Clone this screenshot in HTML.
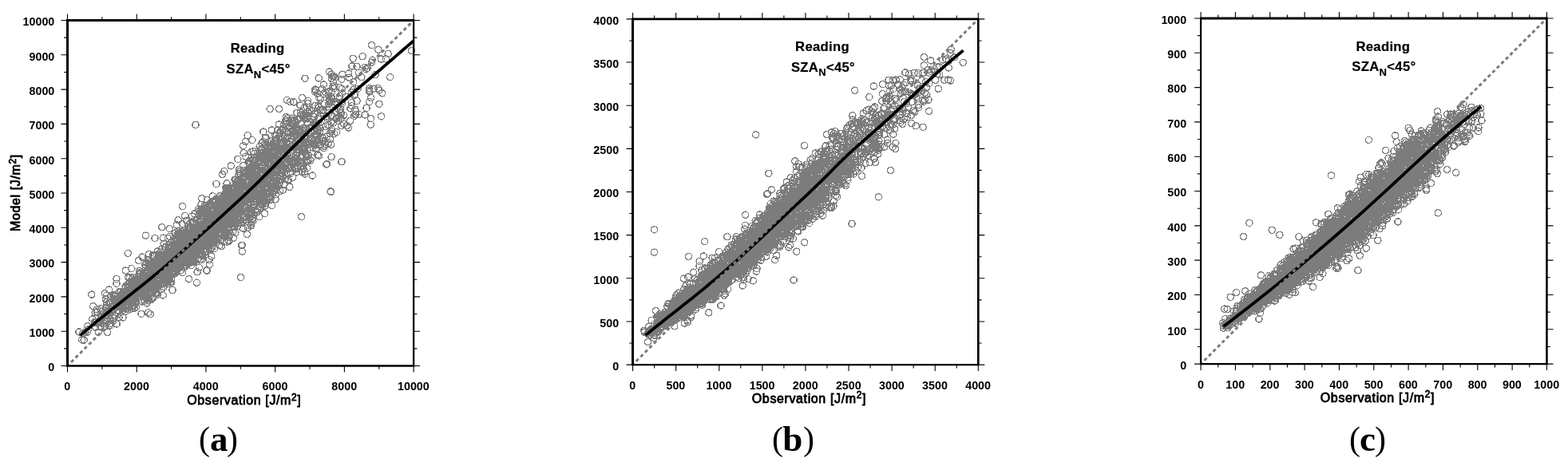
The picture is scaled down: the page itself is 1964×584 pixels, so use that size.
<!DOCTYPE html>
<html><head><meta charset="utf-8"><title>Figure</title>
<style>
html,body{margin:0;padding:0;background:#fff;}
body{width:1964px;height:584px;overflow:hidden;}
svg{display:block;}
text{font-family:"Liberation Sans",sans-serif;font-weight:normal;fill:#000;stroke:#000;stroke-width:0.8px;stroke-linejoin:round;letter-spacing:0.62px;}
.tk text{font-size:14.3px;letter-spacing:0;stroke:none;font-weight:bold;}
.ax{font-size:16px;}
.tt{font-size:16.7px;font-weight:bold;stroke-width:0.2px;letter-spacing:0.3px;}
.sup{font-size:12px;}
.sub{font-size:13px;}
.cap{font-family:"Liberation Serif",serif;font-weight:normal;font-size:42px;stroke:none;letter-spacing:0;}
.cap .b{font-weight:bold;font-size:45px;}
</style></head><body>
<svg width="1964" height="584" viewBox="0 0 1964 584">
<defs>
<marker id="m" markerUnits="userSpaceOnUse" markerWidth="10" markerHeight="10" refX="5" refY="5" viewBox="0 0 10 10" overflow="visible"><circle cx="5" cy="5" r="4.1" fill="none" stroke="#7c7c7c" stroke-width="1.3" shape-rendering="crispEdges"/></marker>
</defs>
<rect width="1964" height="584" fill="#fff"/>
<polyline fill="none" stroke="none" marker-start="url(#m)" marker-mid="url(#m)" marker-end="url(#m)" points="186.8,333.7 271.6,278.2 293.5,279.1 142.8,374.3 192.4,353.9 390.9,179.2 166.2,379.9 187.2,347.4 401.8,171.2 298,251.2 244.2,294.1 274.2,252.5 307.6,196.1 224.1,314.2 189.6,348.5 340.1,188.8 309.4,218.8 274.4,258 348.7,211.5 282.1,279.2 428.6,129.7 207.4,309.1 283.1,245.8 268.3,259.7 240.9,318.2 291.3,246 214.9,336.8 344.3,214.9 365.5,148.1 186.9,325.5 264.8,283.4 224.5,301.5 171.4,372.7 376.4,179.3 257,295.5 192.4,319.7 310.1,264 206.8,310.6 378.7,180.9 210.5,338.4 146.1,405.9 206.5,326.4 239.3,292.8 265.2,284.1 380.7,147.7 316,265.8 237.9,316.3 132.3,394.2 195.7,361.1 465.4,78.2 263.3,290.2 314.4,222.3 158.9,364.4 146.8,377.7 358,152.6 290.5,280.9 231.4,313.7 233.3,326.6 173.7,352.6 199.2,325.3 139.4,371.1 355.8,190.9 264.7,258.1 186.4,350.9 326.7,244.4 205.2,305.6 162.4,348 292.8,277.7 376.3,164.6 141.4,390.8 345.2,227.7 203.8,354.1 175.1,342.2 133.4,370.2 228,310.6 323.5,247.6 270.3,249.9 360.4,199.8 210.5,350.3 232.8,291 220.2,326.9 425.3,109.4 397.6,170.2 238.2,308.6 258.3,304.5 232.6,293.4 328.6,239.3 150.7,383.4 164.9,336.5 251.6,277.9 217.2,343.7 357.8,204.5 327.4,256 281.4,251.1 307.2,261.2 314.7,282.8 338.1,250.6 390.5,175.7 193,321.5 299,279 191.2,347.1 259.8,291.4 339.6,247.3 375.9,132 332.1,200.2 147.7,381.4 242.2,306.6 196.6,319.7 478.7,116.8 191.3,339.5 217,338.8 241.7,287.5 161.9,359.3 366.6,165.8 301.4,263.4 195.7,334.2 271.4,274.8 169.6,374.5 295.6,279.1 214,329.9 149.9,374.9 182.7,363.5 283.4,261.3 301.5,245.5 234.9,313.2 303,231.8 240.6,279.6 187.5,335.7 232.8,317.8 249.7,282.4 383.5,192.4 182.8,368.3 172.6,349.7 284.8,256 411.7,115 381.2,134.4 316.7,238.5 164.6,364.7 345.5,180.8 312.5,261.1 191.3,321 264.4,272.2 156.1,365 344.2,221.1 321.3,215.7 345,235.8 332.4,234.9 222.3,328.8 340.6,215 218.2,322.1 189.6,375.2 248.7,262.1 271.3,303.3 226.5,326.9 294.4,259.4 293.7,270.1 216,325.3 298.2,262.4 241.7,298.5 325.5,243.5 227.5,312.6 343.3,198.6 253.9,289.2 283,240.2 310.1,234.5 275.7,255.8 220.1,309.4 426.6,139.8 176.2,353.8 234.9,303.5 282.1,263 142.8,375.2 194.4,333 343.4,239.6 338.9,246.9 301.5,260.1 378.8,207.3 331,193.1 229.3,327.3 303.3,307.4 238.1,309.9 329.5,177.3 247.5,284.8 193.9,329.3 368.8,211 314.2,267.9 328.1,255.9 284.4,247.9 338.7,250.4 260.8,270.6 285.7,293.5 162.7,364 283.4,266.1 348,163 318,241.5 344.6,206.8 271,267.7 370.7,167.2 180.4,369.9 368.5,151.5 244.7,292.1 174.4,351.1 297.5,259 262.3,281.7 256.7,302.3 360.1,204.1 189.6,335.9 296.9,271.4 253.6,320.3 277.7,259.6 271.7,280.6 188.5,356.8 274.3,252.9 363.6,127.6 198.8,332 126.1,400.3 165,362.3 263.3,294.2 421.2,128.3 153.3,371 447.1,126.5 279.4,251.6 184.2,364.3 254.6,300.3 208.1,319.3 320.2,248.3 280.5,254.2 226.9,319.3 219.6,325.9 365.4,170.2 334,216.1 258.3,271.9 251.9,303.5 326.2,186.4 417.7,102.9 170,362.6 195.5,355.1 242.8,304.9 273.4,269.2 166.6,364.9 158.3,384.1 211.1,337.7 247.7,310.1 326.7,188 295.3,225.4 143.2,370.3 153.7,378.3 261.7,271.9 368.2,201.7 384.6,210.7 243.4,302.9 373,161.9 391.3,158 252.1,319.8 328.5,233.6 243.4,305.1 194,298.5 287.7,243.8 172.7,357.5 307.7,252.2 346.4,213.5 384.8,188 260.8,286.8 183.4,371.8 379.1,160.5 366.6,152.6 415,121.3 291.8,246.7 310.1,220.1 245.1,288.5 201.9,319 227.8,319.6 321.8,252.1 234.9,330.3 314.5,246 272.2,261.3 261,264.8 415,152.7 197.4,369.1 269.1,284.1 195.7,336.2 395.6,185.6 269.4,286.3 236.4,318.9 198,359.5 291.8,290.3 250.5,317.2 186.4,347.7 145.6,380.5 248.9,283.5 289.4,279 275.7,280 378.1,196.9 383.1,179.5 395,176.3 343.5,228.1 267.1,291.5 276.8,287 250.1,299.1 250.6,318.4 151.7,365.3 343.3,212.7 217.4,319.1 143.3,376.6 264.7,321.1 321.1,197.3 258.3,289.2 243.1,295 306.5,234.6 196.6,345.3 126,408.5 291.5,249.4 278.2,286.4 364.9,154 254.1,286.7 339.6,233.5 133.3,378.8 141.7,402.2 292.8,253.5 212.7,349.4 164.8,371.9 186.6,367.7 245.4,303.6 237.5,329.9 285.2,271.8 373.1,184.6 243.5,268 202.2,332 288.3,267 109.6,408.8 247.5,313.4 233.3,311.3 248,314.4 156.9,372.1 283.2,282.9 298.6,231.9 329.4,246.3 407.6,115.9 241.2,291.1 306,244.7 259.6,304.3 210,349.1 373.8,174 328.5,191.7 398.6,149 350.2,165.7 385.7,126.4 186.7,376.5 131.1,408.8 205.9,337 253.3,317.1 313.6,265.4 258.8,295.2 274.6,280.2 332.5,240.6 166.3,347.8 311.3,256.8 155.8,376.2 218.1,332.7 322.3,212.2 312.4,237.1 251.8,291.1 228.4,317.6 352.2,210 224,299 144.7,377.7 217.7,332 136.5,408.1 346.8,228.4 184.9,345.1 420.7,148.8 209.5,330.3 230.9,318.4 289.9,247.3 231.3,293.9 246.3,292.3 179,361.5 248.4,293.1 140,388.9 212.2,315.6 382.1,160.8 225.4,304.9 223.1,331.9 311.5,253.6 371.3,168.7 228.7,341.5 245.7,299.3 320.3,207.1 341.3,181.2 296.2,235 200.9,351.4 201.3,330.5 331.7,225.6 318.3,208.1 376.6,155.3 337.8,217.8 255.2,306.6 188.2,368 374.2,182.9 315.5,214.1 288,257.5 312.1,240.9 247.6,314.8 238.8,306.1 287.8,266.7 268.1,302.1 318.9,227.8 394.9,180.2 358.5,179.9 248.1,300 244.9,296.8 390.2,139 249.6,269.5 343.7,236.5 175,355.2 261.5,277.7 275.2,265.1 346.3,186.5 369.3,212.1 193.8,362.5 297,261.3 299.7,212.4 193.5,348.9 354,162.9 283.1,294.6 410.5,156.2 202.8,311.9 277,260.1 234.6,300.8 302.8,231.6 294.9,261 274.4,285.7 234.9,301.9 272.6,255.3 244.9,291.6 374.3,179.5 263.7,292.5 266.6,302.9 220.3,308.8 219.3,321.6 405.2,106 232.6,325.2 365.8,197.3 292,254.8 428.1,111.5 196.9,327.9 397.9,178.8 335.7,227.3 286.2,271 318.8,249.2 322.3,265.9 260.9,258.7 300.9,246.9 213.3,315.9 136.6,385.4 310.8,243.7 266.4,291.7 380.4,143.9 221.6,298 349.1,191.7 437.3,97.2 377.3,143.7 412.5,127.8 195.5,332.5 197.2,326 213.2,333 242.6,286 182.7,364.3 193.2,332 133.9,398.2 393.4,146.6 242.5,328 299,247.6 262.2,296.8 327.7,251.4 345.5,243.5 247.1,308.2 279.2,267.4 176.7,368.8 226.4,307.2 211.9,323.1 231.4,331.5 234.8,296.6 287.7,248.2 236.5,304.3 235.3,313.9 353.3,178.4 127,398.4 116.7,383.8 160.1,371.4 364.8,199.2 300.8,274.6 323.7,243.4 407.7,158.3 210.7,298.7 386.9,142.1 216.6,340.9 275.8,263.3 311.9,245.8 342.8,228.5 217.9,307.3 266.9,269.3 154,398 226.9,304.6 428.7,93.2 380.2,211.5 289.2,245.8 339.7,191.9 379,145.8 236.3,281.7 428,99.2 260.9,290.3 195.5,351.7 278.1,261.8 291.7,275.8 314.8,278.7 309.5,245.9 151.6,378.8 302,279.6 387.7,160.8 309.3,293.6 421.9,147.5 274.2,286.6 346.7,179.2 190.3,349.2 376.3,141.1 258.4,270.1 368.9,168.2 234,302.2 298.6,253.8 358.3,183.7 319.5,244.1 297.6,258.3 417.6,153.9 173.2,346.3 178.3,344.4 282.7,241.2 405.7,185.7 313.3,250.7 231.6,320.6 180.2,353.5 260.9,293.1 267.6,305.3 265.1,285.1 297.5,283.3 223.6,315.8 370.3,160.6 227,325.3 180,343.9 239.9,321.2 394.7,112.1 195.6,334.2 224.7,322.3 390,174.4 239.8,297.7 357.1,206.7 154,388.4 373.4,174.8 215.4,324.7 201.3,354.9 327.5,215.9 443.6,119.5 408.8,146 330.2,194.9 384.3,196.2 438.7,151.3 282.9,294.2 191.5,354.2 359.2,152.3 249.8,283.7 232.3,326.2 272,276.7 147.4,388.7 134.1,403.4 221.7,321.1 292.2,237.2 329.4,200.7 407.4,115.7 349.1,186.4 397.6,176.3 301.4,251.2 325.3,259.1 290.4,270.1 170.7,358.6 162.4,379.7 332.3,173.1 206.9,342.1 340.7,231.2 264.2,270.3 119.7,410.1 284.8,237.8 259.8,296.6 167.7,368.2 220.9,302.1 231,322.3 239.3,296 318.3,268.9 197.8,334.5 259.8,308.8 294.7,268.5 400.6,137.9 182.6,348.2 169.9,359.9 204.2,369.9 211.4,341.4 196.5,359.2 168.5,370.7 208.7,325.6 212,307.4 267.5,264.6 304,252.6 243.1,328.2 198,345.5 175.7,352.7 221.4,282 198.7,350.8 267.8,300.8 366.8,150.6 320.8,213 207.1,337.5 148,380.4 165,375.4 258.2,292 243,298.2 312.3,241.9 171.7,365.8 219.4,340.3 313.1,205.2 286.2,249.4 275.3,245.9 378.8,164.1 182.1,365 205.1,359.4 285.6,287.4 285.6,277.7 427.5,157.3 424.3,147.3 290.3,243.5 332,257.6 316,273.4 188.1,346 293.6,257.3 230.8,316.8 242.1,322.1 194.8,344.4 121.9,390.9 360.7,203.2 320.9,227.3 330.1,224.8 227,302.9 254.4,302.4 200.1,344.2 293.6,267.8 355.8,231.1 337.5,197.3 393.7,181.9 220.8,332.5 316.9,253.2 186.3,352.6 279.4,259.5 181.1,368.8 280.3,258.1 280.7,258 239.5,305 240.1,308 319.4,212 267.8,290.6 252.3,303.7 181.9,332 225.7,292.7 358.4,196.9 418.8,107.8 245.1,297.2 366.7,222.2 367.8,204.9 210.8,343.9 223.8,297.5 315.6,225.5 230.9,326.9 406.1,129.4 243.3,305.6 324.3,196.3 318.4,225.9 209.7,355.8 365,187.6 235.7,301.8 181,346.2 156.6,373.5 261.6,289.6 300.6,253.1 223.3,294.2 356.7,163.7 222.4,293.6 358.6,178.2 146.1,376 221.3,328.9 195.6,357 260.8,270.8 240.3,291.8 249.6,288.6 359.9,203.7 288.6,293.8 294.3,246.3 248.6,292 346,177.4 272.2,285.2 328.5,253 384.2,202.6 295.8,232.5 258.1,282.5 221.5,330.9 383.2,202 333.6,200 343.5,229.2 211.6,319.6 258.4,286 371.5,215.9 217.4,306.2 347.8,221.5 279.9,252.5 210.9,334.8 245.5,299.5 168.6,386 310,282.2 323.5,228.4 143,381.8 229.9,304.8 334.7,238.6 206.4,329.8 279.6,267.6 345.4,214.9 286.6,236.3 184.9,360.5 382,218 328.7,207.9 285.5,276.4 236.6,349.8 289.2,249.3 248.9,312.5 183.8,355.5 184.9,350.8 153.9,378.3 198.6,357.6 217.3,323.2 301.1,265.5 288.8,251.1 291,279.8 350.3,197.6 175.9,343.3 248.4,323.7 169.9,360.4 254.7,285.9 169.7,350.2 164.4,368.9 179.1,362.1 248.6,314.4 333.1,172.5 225.6,302.3 327.4,188.6 214.4,337.5 226.8,322.4 265.8,274.2 168.1,382.8 261,295.9 289.5,285.1 351.1,224.2 159.6,358.7 343.6,183.4 286.5,254.4 288.4,267.1 157.1,358.9 370.1,203.1 224.6,308.9 281.6,296.9 279.9,258.9 382.4,190.5 293.4,274.1 448.1,111.2 214.2,321.2 307.4,261.2 288.1,271 274.6,274 299.4,261.1 282.4,250.6 237.4,301.6 302.6,235.7 171.5,355.7 267.4,253 261.8,298.5 209.6,321.8 286.2,243.6 309.3,233.7 185.7,338.4 228.9,317.8 162.5,376.5 292.5,273.3 170.8,361.1 213.5,333.4 260.8,276.9 261.6,270.4 146,355.3 401.2,124.4 213.7,333.7 295.4,259.7 211.8,334.6 292.2,272.2 240.7,277.8 233.5,309.6 266.4,286.6 290.1,244.5 292.7,248.8 313.8,217.7 222.6,296.3 174.6,339.6 219.1,308.4 235.3,314.1 294.8,278.2 253.7,284.4 232,333.7 177,393.3 292.4,242 181,372.4 275.3,267.2 313.7,265.9 298.3,267.6 195.7,349.2 241.4,292.6 397.5,163.2 174.3,343.9 311.4,262.6 258.4,285.3 296.2,269.4 249.4,296.8 185.4,353.1 285,235.4 118.3,404.6 364.3,217 343.3,221 245.2,300 279.7,269.6 277.6,255.6 427,148.3 153,386.5 229.1,289.5 252.2,308.1 340,176.8 324.3,213.3 255.6,264.2 126.4,386.8 304,222.5 252.1,263.7 183.2,329.6 300.1,239.2 260.2,283.3 231,333.3 222.8,334.4 276.2,248.2 217.8,310.2 249.3,335.2 398.1,162.5 267.1,272.6 219.2,342.6 276.3,290.8 385.7,140.1 365.1,173.4 311,219.1 377.7,208.5 331.4,180.8 311.7,213.5 256.6,272.8 192.9,351 324.8,246.9 300.9,252.7 415.2,98.1 234.1,293.1 368.9,204 210.9,351.6 400.6,165.8 462.7,127.7 154.9,375.5 234.8,301.4 475,113 415.6,162.2 309.4,233.6 188.6,362 119.2,391.7 218.2,323.1 399.5,122 345.1,197.8 256.7,268.2 332.6,209.1 379,169 229.6,325.4 368.1,170.9 222.8,310.5 235.7,321.6 153.6,379.1 195.8,367.8 282.5,271.5 138.9,387.3 281.4,255.5 198.5,319.9 329.2,237.9 186.7,360.4 208,347.5 222.7,324.1 289.3,207.9 346.2,221.6 330.4,230.4 327.2,255 312.1,201.7 280.9,244.4 238.6,297.8 201.1,327.7 364.2,208.8 252.6,248.8 304.6,182.8 165.3,355.5 242.5,318.9 177.7,353.5 241.1,309.2 325.1,183.6 238.3,309.9 312.2,215.8 185.2,362.5 247.5,325.7 252.8,309.7 273.7,270.2 213.3,334.2 316.3,207.3 371,187.6 347.4,230.4 144.5,375.2 269.3,283.4 238.9,318 287.2,279.6 171.5,350.5 324.2,253.4 254.2,295.5 399.2,97.9 134.5,416.3 254.4,307.5 269,266.7 353.2,187.7 331.3,249.3 201.7,343.3 231.2,301.8 325.8,194.1 254.9,286.8 221.4,312.3 392.1,145.9 357.1,200.3 241.3,285.2 282.2,251.3 391.3,220 210.4,318.2 382,148.9 371.9,141.2 323.4,225.9 313.2,272.3 312.9,242.8 281.1,282 289.2,253.8 205.6,338.3 285,251.6 310,213.3 268.7,311.5 311.5,238.6 263,300.1 344.7,183.9 321.9,226.6 173.6,365.2 334.8,216.7 226.3,298.1 170.7,366.2 184.6,346.7 234.7,300 277,278.5 236,291.7 207.1,346.5 334.8,251.1 245.2,315.4 367.9,202.2 217.1,311.4 314.1,281.5 241.7,297.8 359.3,180.9 303.7,262.7 311.3,218.5 175,358.8 329.9,165.1 241.1,300.4 326.9,203.4 357.8,150.8 184.9,353 130.7,402.8 331.7,213.2 415.8,124.1 378.2,215.4 258.2,262.5 354,181.5 138.5,405.6 160.8,382.2 289.1,235.3 277.6,279.8 351.2,187.5 214.5,354.6 263.9,301.9 443.7,145.3 230.2,323 251.6,312.6 294.8,291.7 460,85.4 201.8,343.1 314.4,216.4 253.7,319.4 250.9,274.1 219.9,341 264.5,278.9 287.6,263.9 249.1,291.7 273,292.8 301.3,254.5 360,171.8 284.7,291.1 247,294.4 410.4,137.8 199.2,344 154,366.6 381.6,182.9 222,315.7 193.4,330.5 247.6,306.8 238.7,303.9 241.2,307.6 359.8,195.3 227.5,329.5 188,346.4 210.2,321.1 402.6,138.6 256.8,280.6 242.4,322.5 337.1,222.3 394.6,175.6 273.9,286.1 348,206.3 221.7,331.9 240.3,302 288,242.2 215.2,332.9 224.1,309.5 203.1,340.9 221.2,327.8 355.9,168.8 342.1,188.3 182.3,335 239.9,294.9 322.3,196.5 362.8,234.3 284.5,265.4 323.4,204.9 215.4,333.2 338.4,216.8 350,229.4 252.2,317 215,336.8 146.1,391.9 299.8,248.1 300.5,275 106.5,416.6 276,270.4 396.2,168 142.9,371.7 189.4,345.1 160.4,356.1 258.4,285.5 247.5,293.2 366.5,205.9 164.5,362.9 206.4,336.6 395.9,156.5 134.4,390.7 220.5,310.7 249.5,283.8 103.9,417.8 226.8,338.7 293.8,243.9 296.5,237.3 295.1,257.6 304.7,207.3 296.4,267.8 147.1,374.5 305.7,251.8 289.6,249.7 210.7,334.8 254.8,301.2 215.5,341.2 365.7,187.3 224.9,315.3 196.6,367.1 342.6,205.6 332.6,186.1 360.2,148 311,234 254.3,289 266.6,269.7 283.4,241.5 292.2,257.4 399.9,180.5 221.9,314 334.6,196.4 132.3,374.5 203.8,347.2 399.5,134.7 218.6,338.5 274.1,259.8 385.3,145.4 305.6,222 269.3,293.4 317.1,201.1 425.4,120.8 397.7,117 201.5,350.5 190.2,344.7 226.9,318 191.7,328.2 333.4,199.2 354.1,213.6 190.4,330.7 167.4,374.3 234.6,307.4 313.4,266.7 335.1,212.2 263.5,257.5 302,254.4 385.8,201.1 370.2,152.5 183.5,354 320,239.5 336.9,241.2 381.2,203.7 254.5,285.6 194.7,341.7 266.3,294.1 244.4,323 249.4,312.8 344.5,238.9 305,245 311.7,242.1 305.2,272.4 190.7,348.7 160.7,347.6 249.7,295.7 359.3,198.4 304.2,225.1 341.1,217.8 298.2,239.5 339.1,227.7 464.2,156.2 320,207.8 363.5,178.3 419.6,131.1 327.1,256.3 347.5,222.5 169.6,369.5 148.4,373.4 388.5,180.7 215.5,315.8 230.7,335.5 188.8,357.6 300.9,231.8 143.6,375.1 343.4,227.4 229.2,328.1 327.9,247 382.7,174 314.2,237 255.9,316.3 298.7,236.7 361.2,226.2 319.5,238.9 218.9,318.1 120.8,403.9 370.1,178.5 298.4,252 163.1,372.2 282.5,265.4 290.7,274.3 228.1,311.8 372.5,169.9 216,363.6 191.3,372.1 231.6,270.5 237.7,287 371.7,199 306.2,217.5 184.8,362.7 249.4,292.1 178.5,364.7 318.1,207.8 361.1,166.1 175.3,351.5 271.8,287.4 217.1,299.4 226.3,329.6 328.7,196.4 423.8,151.6 224.9,321.3 280.8,292.4 231.8,315.4 162.5,362.9 293.7,273.9 194.5,367.5 313.6,217 328.8,223.9 190.9,350.6 292.3,298.2 208.4,325.8 333.1,202.2 226.5,334.8 314,231.7 304,271.2 287.7,241.2 210.7,343.6 354.2,238.4 241.2,306.9 335.2,178.2 266.5,279 260.8,283.7 319.7,227.1 238.2,279.7 333.2,215.3 260.2,297 327,244.6 316,243.6 400,174.7 252.5,307.4 240,319.6 459,135.3 275.2,277 254.6,300.1 316.8,227.9 218.4,335.8 407.8,180.9 330.6,217.5 304.3,231.9 227.8,308 346.4,169.4 386.5,166.4 341.1,242.9 383.4,203.1 174.8,342 327.2,223.7 365.1,155 266.8,268.7 170.2,354.6 280.8,257.7 216.6,338.4 145.8,369.4 394.7,115.3 353.6,212.3 300.9,233.7 329.2,233 309.6,239.2 263.9,274.5 184.6,360.5 227.1,318.4 273.1,280.1 289.2,245.4 229.9,332.6 186.4,331.7 238.6,286.2 202.6,332 392,184.9 211.5,314.7 249.5,313.4 280.6,266.9 218.9,331.6 270.7,267.3 282.9,235.3 156,375.4 401.2,181.6 279.8,268 191.9,330.1 430.8,155.3 198,329.4 323.6,229.7 268.1,254.8 220.1,324.3 246.4,304.3 267.8,273.2 244.6,308.4 217.7,320.8 254.1,302.3 258.3,290.4 313.6,248.6 205.7,347.9 154,376.9 354.1,171.4 165.7,386.6 300.2,261.2 282.1,264.4 421.7,130.1 203.7,338.8 373.1,149.1 187.3,350.1 198.9,343.1 305.4,250.9 197.3,315 290.2,273 310.5,227.5 185.9,391.6 340.8,211.1 255.6,315.6 414.6,181.1 126.1,409.7 169.6,379.9 297.6,226.4 220,340.1 251.3,309 381.9,171.3 238.9,305.3 157.1,365.9 191.1,331.2 283.5,238.3 336.4,246.3 331.7,203.7 265.8,253 215.9,316.9 186.8,349.1 212,341.7 206.4,323.9 381.2,186.1 252.3,289.7 183.1,372.9 301.8,229.1 262.8,280.3 143.1,382.7 427.1,141.9 400.6,167.1 221.3,327.9 353.8,217 262.3,282.6 310.2,235.1 305.3,213.8 324.8,271.6 259.2,263.8 192.1,329.7 344.9,169.3 259.2,339.4 259.6,274.7 332.1,188.2 313,212 442.6,102.9 248.2,300.8 301,255.9 171.6,360.9 181.8,362 219.5,341.5 225.2,333 260.4,292.6 213.4,309.6 394.9,132.2 256.6,299.6 247,283.5 378.9,184.3 342.4,234.8 335.1,223.5 384.2,202.5 326,195.6 230.8,309.4 410.2,148.7 141.6,388.8 376.9,182.1 254.8,273.2 237.6,323 266.4,245.8 250.7,290.2 363,159.5 345.5,230.6 328.7,243.6 214.3,349.5 259.1,259.9 168.2,372.9 327.6,195.1 152,372.9 249.9,277.1 193.3,342.1 360.1,203.6 386.2,165.8 227.3,318.9 367.3,165.6 200.6,355.8 319.4,233.3 218.5,332.1 260.3,285.7 295.6,269.8 240.4,280.6 205.7,319.3 290.5,256.4 341.9,233.8 462.8,110.8 234.3,301.3 220.1,302.4 168.7,372.1 207.5,320.7 140.6,380.9 218.3,302.6 323.2,247.8 182.5,340.3 303.7,249.2 228.5,320.9 213.4,338.6 268.3,288.2 258.3,301.4 260.6,270.1 183.4,351.5 285.4,246.1 379,204.3 123.2,416.1 170.6,366.9 290,269.1 233.5,322.5 218.8,315.2 440.5,115.9 231.3,306.7 387.3,137.3 296.9,235 144,370.7 222,323.7 168.4,359.6 279.8,250.6 381.6,163.7 157.9,386.5 142.3,369.5 143.3,375.9 223.6,289.8 197.5,356.8 415.6,127.6 336.4,219.2 396.6,186.7 288.7,280.2 350,220.6 318.8,252.1 227.9,314.4 305.2,191.7 227.2,307 264.2,270.6 350.5,228.3 211.4,309.9 199.8,328 360,207.6 264,312.7 199.5,331.9 233.4,307.5 225.3,315 376.5,173.6 266,297.3 387,180.4 265.5,276 396.7,164.6 385.3,129.5 286.1,240.9 339.7,233.9 226.8,292.9 182.8,359.1 294.1,225.2 159.2,384.1 264.9,302.8 297.6,244.6 334.3,250.2 376.7,179.4 207.3,341.9 364.8,174 271,230.5 298.2,259.7 263.8,287.8 358.7,146.3 229.6,324.7 121.5,387.9 352.6,217.3 307.3,216.5 320.8,243.1 185.5,376.9 207.8,334 298.9,219.8 328.8,240.7 307.2,248.4 292.2,268.5 305.7,259.8 192.4,337.8 261.4,289.4 235.9,300.7 325.9,219.6 275.5,255.6 321.7,221.8 315.3,238.1 380.3,184.2 361.6,200.6 157.3,339.1 308.7,250.3 245.1,311.9 177.9,361 267.2,270.9 357.1,224.7 342.6,210.4 179.6,345.3 206.9,347.2 315.4,200.7 415.5,144.5 169,373.3 173.5,326.7 315.5,220.5 296.7,254.3 347,183.2 205.8,322.9 270.6,284 343.9,207.4 247,315.7 250.6,267.1 145.9,349.4 343,208 260.5,306.4 246.1,310.4 305.8,239.1 360.4,225 365.1,157.3 238.6,311.9 295,249.2 248.1,314.6 355.7,215.8 341.7,216.4 307.3,242.6 350.8,166.7 273.8,261.4 286.8,257.1 196.5,327.9 318.6,246.3 227,329.5 284.8,281.2 109.4,416.1 250.2,300.2 296.7,228.6 300.1,214.8 285.2,246.9 218.8,331.6 305.6,270.8 307.2,222.4 290.9,268.1 245.9,307.6 193.6,353.5 283.7,265 157.5,360 385.1,154.6 240.7,301.6 225.8,311 261.4,310 178.9,364.1 371.8,201.2 426.8,137 350.7,179.7 287.4,246 397.4,174.4 236,295.7 264.4,278.3 198.9,347.6 255.9,303.7 390.5,173.8 307.7,226.2 281.4,259.3 279.4,246.4 301.1,219 295.3,230.4 261.8,311.5 274.1,265.6 178.1,322.1 259.9,301.7 310.4,285.2 212,317.2 224.5,308.7 345.1,249.6 189,360.6 205.1,342.2 349.2,202.5 184.5,374.6 229.7,308.8 382.5,173 253.4,297.3 348.9,202.1 333.5,201.2 135.3,393.8 211.1,337.3 383.2,194.9 234.1,312.2 251.5,282.9 394.2,164.2 180.9,377.5 418.5,110.6 303.8,228.2 299.6,259 105.1,426.2 300.1,242.5 350.4,224.5 249.5,264.3 167.3,369.4 187.9,354.5 169.2,359 253.9,283.8 348.8,233.4 160.9,373.2 251.9,256.5 250.9,317.5 250.3,311.4 277.4,273.8 279.2,267.7 207.3,353.2 342,189.1 275.4,275.5 240.6,271 412.3,156.9 318.1,256.8 196.6,343.1 416.3,95.5 288.4,271.6 238.1,300.1 215.4,330.5 165.1,359.2 217,330.7 227.2,290.3 238.9,310.8 440.5,132.8 291.5,272.8 204.3,331.6 244.5,315 257.5,304.5 171.4,353.8 265.1,293.5 273.5,298.7 382.2,160.6 257.7,316.1 313.8,213.6 311.6,240.2 199.8,334.2 286,284.2 261,270 196.5,330.1 138.9,387.2 462.9,114.9 174.2,366.5 372.7,150.4 243.7,298.2 170.8,366.9 412.7,124.5 307,216.4 251.7,316.9 355.4,200.8 318.6,242.4 254,261.8 321.1,265.9 326.3,260.7 199.1,342.2 320.7,246.9 385.3,173.9 313.6,253.3 343.4,192.3 444.8,143.6 342.6,181.8 265.4,252.8 284.9,245.1 334.1,250.5 300.4,258.3 166.4,353.5 161.6,381.5 223.5,334.8 349.2,195.4 211.6,320.8 233.6,276.7 350.7,239.2 186.9,355.3 225.1,321.7 219.9,291.7 155,380.7 327.6,226.9 234,311.4 252.3,301.6 236.6,315.8 164.2,361.7 357.7,211.1 188.6,366.8 226.4,307 321.9,225.8 239.8,303.7 273.2,266.5 236,329.5 284.5,303.1 233.3,306 262.6,301.9 122.7,404.8 130.5,397.8 273.2,299.9 348.8,191.2 477.4,74 344.6,191.4 276.9,269.1 303.2,224.3 309.6,239.4 324.2,241.6 449.4,91.1 238.8,302.8 260.5,289.7 337.5,183.5 210.3,323.5 176.2,356.2 377.6,154.1 131.3,367.7 375.6,197.3 384.5,147.5 197.3,359.3 331,223 227.1,302.9 223.2,292.4 432.7,121.2 372.8,207.7 333.5,217.6 258.3,257.3 436.5,160 286.7,302.2 427.4,128.2 322,236.2 154.7,369.9 343.1,200.8 355.4,212.4 370.6,157 298.1,268.5 149.2,378.3 365.5,201.2 255.3,270 205.4,344.7 208.4,353.9 206.7,347.4 348.4,186.4 167.2,359 386.1,144.9 132.3,375.5 322.4,216.1 213.8,338.1 274.9,282.8 200.4,349.6 378,202.9 194.7,356.1 264.8,293.6 295,264.1 261.9,276.5 210.3,324.9 227.4,305.5 394.1,157.6 185.8,332 133,385.5 381.8,215.1 372.6,181.2 312.9,250.6 265.9,265.3 404,172.6 253.5,269.2 128,390.1 258.1,274 277.9,291.4 282,247.9 373.3,210.3 165,377.1 360.8,207 276.5,265 324.8,226.8 253.6,289.8 228.7,258.6 237.2,294.4 224,327.7 262,307.8 292.7,284.3 353.1,209.7 199.7,334 261.3,292.1 278.5,248.9 349.1,185.8 319.2,224.9 298.3,245.7 310.3,231.4 260.9,273.4 345.6,213.4 355.2,186.7 285.8,248.1 183.2,359.4 256.2,312.2 221.7,324.5 204.2,327.7 228.9,327.3 349.5,171.6 239.7,332.7 257,319.5 247.1,340.8 202.3,329.2 286.9,279.7 254.2,297.8 395.2,169 297.3,277.9 424.9,146.8 362.5,211 269.8,290.3 131.8,389.5 209.5,331.7 184,339.6 326.2,205.7 189.5,338.6 303.4,249.3 234.4,300.6 267.7,298.5 331.4,258 229.2,326.9 198.9,330.9 227,317.8 399,181.8 282.9,252 226.8,317.3 191.8,363 165.2,357.1 236.8,308.2 296.3,235.9 262.7,258.6 347.3,233 458.5,86.8 286.6,260.5 239.1,328.3 342.1,195.6 173.5,364.5 332.1,199.2 370.8,194.2 336.7,247.9 177.1,357.7 289,247 344.3,223.4 253.1,281.3 357.4,183.2 197.4,336.4 277.8,271.6 284.1,229.9 340.2,163 253.2,317.8 220.3,339.7 319.7,221.4 182.4,341 243.9,293.6 265,289.6 340.1,215.3 255.9,284.7 284.9,279.6 311.3,231.3 310.6,253.2 411.8,130.1 264,270.2 287,255.8 134.8,394.6 204.2,353.9 218.1,307.1 209.1,326.6 275.8,281.8 206.1,351.4 286.6,260.4 351.5,172.8 167.1,357.5 216.7,330.9 271.1,298.8 154.4,378.7 191.1,367 287.7,256 250.6,325.4 379.6,190.1 286.7,289.6 331.5,255.2 239.3,304.1 245.9,303 360.6,160.3 296.6,254.1 384.3,134.3 218.9,333.2 182.5,364.1 311,244.3 185.8,354.2 168.5,366.9 248.7,269.8 313.3,220.3 242.4,297.5 330.4,244.3 262.4,283.7 226.3,327.1 279,257.5 294.1,266.7 193,353.8 291.3,243.8 198.1,328.3 415.5,116 278.4,282.7 207.6,332.1 152.3,381 209.9,317.4 233.5,313.6 287.3,277.9 307.7,267.8 319.5,201.3 259.4,250.6 299.9,245.3 283.1,255 228.8,297.6 211,341.4 250.6,303.2 314,268.1 188.6,354.8 301.3,246 136,389.4 202.1,339.9 309.2,272.7 346.1,174.7 334.2,195.2 312.5,220.8 219.3,327.9 440.2,128.4 293.3,256.5 382.4,144.4 395.1,156.5 215.7,335.2 416.9,108.8 170.6,384.7 301.6,226.8 219.9,322.3 175.5,368.1 286.5,266.2 209.4,322.7 339.7,208.9 263.7,273.4 222.9,307.2 126.5,396.3 314.6,190.7 301.4,259.4 345.2,230.4 247.2,300.7 384.5,188.1 138.6,400.5 386.3,194.7 333.6,212.8 178.4,367.2 438.9,135.9 173.9,358.7 329.8,253.2 217.1,324.8 314.4,223.2 355.1,197.6 183.5,368.3 234.8,321.7 376.1,148 267,302.9 193.9,329.6 172.8,372.4 185.1,371.4 179.6,344.1 241.6,300 336.9,239.8 261.9,301.7 177,354.6 240.7,325.5 268.3,257.8 260.9,296.1 302.5,250.8 311.8,265.8 329,216.7 279.3,277.5 143.8,396.4 334.9,213.5 338.7,204 324.1,213.2 258.6,280.4 372.8,192 176.3,353.6 326.9,249.6 292.3,261.7 316.7,239.2 164.8,380.3 415.5,164.3 144,396.4 200.3,345.9 275.3,267.7 287.2,279 200.6,316.1 226.8,297.5 384.7,177.3 234.1,327 260.2,273 181.5,368.1 286.4,301.2 316.8,232.3 327.1,227 214.3,320.4 244.2,306.3 305.6,216.7 419.7,127.4 335,242.1 211,348.6 164,372.9 235.6,314.8 278,270.5 223.4,311.1 340.7,257.6 219.9,306.3 185.4,341.7 293.7,284.4 332.3,237.6 207.5,325 236.8,303.2 220.6,335.9 142.9,387 312.4,213.9 156.9,390.3 295.8,280.9 299.2,227.3 278.1,270.7 152.2,370.1 149,397.9 274.9,295.4 269.8,257.6 130.8,401.1 125.2,403.9 336,198.9 234.8,307.3 320.9,212.5 205.9,348 222,332.1 377.4,202.4 205.7,338.7 252.5,311 271.5,285.6 319.6,225.3 234,313.7 304.4,286 211.8,335.3 312,279.2 136.5,363 202.9,356 162,353.7 178.3,362.8 329.1,253 264.2,304.9 338.8,213.5 421.7,165.7 202.7,326 334.7,184.1 418.7,167.3 231.6,321.5 169,352.8 263.7,289 280.8,289.6 313.7,215.4 286.8,297.3 230,317.3 196.4,348.7 238.1,296.2 265.2,311.1 202.6,331.8 229.3,317.1 371.7,210.8 255.7,299.9 185.8,366.6 308.2,260.3 241.2,285.6 275,275.8 249.2,310.7 182.5,356.3 326.1,237.3 286.3,258.8 442.6,112.4 115.7,400 288.2,235.2 256.1,258.2 258,268.1 322.3,261.8 216.6,332 250.7,308.5 188.2,328.3 285.9,236.2 258.6,338.8 152.3,380.4 213.7,314.6 249.7,317.8 278.5,280.1 175.1,352.9 297.5,280 349,187.8 236.6,316.7 164.6,384.5 192.1,344.5 333.1,221.7 278.6,274.7 189.1,332.7 197.9,362.5 353.9,161.8 311.6,245.7 315.5,228.4 190.3,341.9 445.9,139.6 219.3,318.1 241,314.5 214.6,324.7 398.5,133.1 300.3,217.2 283,292.4 253.7,288.4 320.9,210.3 265.2,285.4 263.7,262.8 193.5,345.4 350.8,175.8 164.3,353.4 381.3,187.6 385.2,179.3 276.7,287.8 196.7,342.5 210.7,326 190.1,367.4 316.8,277.6 242.9,303.8 430.6,144.4 238.3,284.2 235.9,286.1 310.9,252.7 369.5,181.4 277.4,308.5 184.9,345.5 198.7,328.4 320.4,211.7 333.9,225.8 444.6,118.1 287.3,253.8 338.4,184.2 310.4,268.8 282.3,263.6 346.1,200.8 207.2,333.4 193.9,341.4 231.7,319.5 247.5,282.7 402.5,156.8 351.2,209.1 328,179.4 374.6,187.9 247.2,276.3 434.6,157.4 381.3,170.1 202.5,343.9 246,305.4 231.3,292.4 204.5,298.1 395.5,113 248.7,299.4 366.1,164.4 292.4,268.6 161.4,388.1 257.8,283.6 337.8,213.9 233.6,299 228,305.3 175.3,363.8 266.3,273.8 398.3,154.7 134.1,385.1 372.8,163.2 293.1,244.3 225.3,304.2 377.4,194.3 390.5,197.8 419.9,96.5 263.9,299.5 253.8,307 308,241 373.6,209.9 240.2,328.7 236.4,293.5 252.5,325.6 136.3,379.7 356.1,182.1 262.9,255.4 264.8,287.4 300.5,257.6 346.3,195.6 318,192.7 236.7,309.8 228.4,322 236.6,297.5 278.6,263.5 346.9,211.4 121.3,391.1 294.3,258.6 357.4,171.3 284.8,278.7 246.7,291.3 266.3,287.2 274.9,255 299.2,264.7 168.2,350.7 341.4,230.1 282.7,270.9 224.5,300.5 384.8,181.4 250.4,290.3 336.4,186.5 229,301.5 281.9,285.3 203.7,355.5 223.8,310.8 235.8,326.5 191.2,374 332.4,252.2 261.4,304.5 239.6,303.7 289.8,278.3 213.6,353.1 258.7,282.9 286.1,263.9 296.7,240.5 255.4,286.4 327.7,215.3 365.3,201.7 411.7,179.2 284.5,270.6 413.1,167 396.1,154.2 305.8,259 188.6,370.5 302.5,242.7 278.4,218.6 317.2,226 223.1,275.8 452.9,96.7 239.4,304.3 486.1,67.5 224.4,331.9 267.1,270.9 312,248.6 220.6,330.3 252.1,267.8 307.3,233.6 330.3,228.3 385.4,148.9 282.7,274.8 411.3,119.5 225.6,312.7 295.2,280.9 331.6,267.6 171.4,349.4 339.8,182.8 349.4,156 285,275.1 388.6,171.7 316.5,242.2 243.7,313.9 345.6,191.6 275.8,300.3 312.5,205 440.9,82.9 315.7,226.8 337.1,190.2 348.5,200.3 206.4,320.2 149.2,365.8 168.5,363.7 264.4,289 413.5,174.5 260.4,274.6 388.7,201 228.1,280.4 190.8,344.8 252.1,274.9 357.5,210.8 414.9,145.1 279.9,249.8 246.5,289.9 340,204.3 256,308.3 230,327.9 331.2,223.8 171.3,367.1 336.9,191.6 405.3,117.4 178.6,352.3 338.4,204.2 138.5,407.9 185.7,360.3 228,302.6 483.4,73.8 158.1,366.7 262.6,331.5 259.6,273.9 200.3,327.5 424.8,137.7 215.2,326.3 378.7,194.5 280.8,214.6 319.9,263.3 327.8,218.3 310.4,266.9 346.4,169.9 370.6,198.8 190.7,365.3 173.7,346.7 262,325.6 180.2,376.1 291.1,254.9 397.9,194 274.9,307.6 198,350 183.2,358.9 278.5,270.1 327.8,202.8 345.5,211.3 331.1,227.8 264.3,271.6 368.4,159.2 280.4,303.2 312.4,242.6 110.5,412.9 269.8,279.9 172.8,367.9 209.4,318.1 229.8,319.1 287.3,273.7 168.8,353.9 319.7,227.8 249.6,279.2 210.7,345.8 406.3,183.2 307.1,233.3 237.2,284.8 185.1,351.1 269.6,290.8 335.5,183.9 274.3,264.3 231.7,314.5 181.9,342.8 212.2,296.4 340.8,231.2 195.7,354.9 428.6,116.8 324.1,213.8 251.4,292.9 203.5,327.6 264.5,294.8 404.3,138 183.8,380 216.9,340.1 168.9,377.3 322.7,242.5 403.3,111.5 283.7,236.6 229.1,322.2 412,141.4 290.3,258.5 409.4,170.9 245,301.9 191.8,319.3 166,349.8 222.3,300.6 257.7,268.7 333.2,181.9 265.2,277.6 222.8,337.2 378.3,122.4 288.1,276 293.7,256 349.7,220.9 309.5,247.9 216.4,306.2 404.5,141.3 196.2,330.3 195.9,345.6 304.3,221.6 289.3,250.7 213.5,304.3 317.2,189.5 177.4,361.5 266.5,272.3 401,161.5 376.4,196.2 294,252.4 341.6,191.3 307.6,263.4 214.4,321.4 362.3,181.7 295.6,251 292.2,266.2 404.8,176.9 284.3,249.5 235.1,330.6 255.4,287 283.5,269.3 367.2,192.5 356.9,224.8 250.2,314.3 269.4,302 156.4,376.5 302,252.6 344.4,175.3 205.7,346.7 301.2,259 190.2,335.1 355.8,188 324.4,219 394,142.9 226.1,304.1 198.6,340.9 286.7,257.3 160.5,366.8 350,229.4 207.4,344.2 188.2,393.8 192.5,359.5 317.5,229.1 156.2,377.7 255.3,261.4 201.5,356.3 338,204.6 158.6,386.6 205.4,329.9 335.5,235.6 275.1,257.9 182.7,341.8 444.9,137.2 244.6,313.4 254.8,264.7 327.3,197.3 270.2,296.3 352.8,185.9 279.3,255.7 217.4,318.1 279.3,264.1 355.7,156.2 225.3,293.6 301.2,276.2 288.7,280.2 314.9,222.1 242.3,324.1 212.8,317.4 307.9,216.7 358.7,164.6 265.8,284.9 189.2,333.4 344.8,177.6 277.7,270.3 312.3,237.4 178.1,377.9 339.2,230.2 244.9,292 374,166.4 217.8,324.9 118.3,403.8 233.7,318.8 322.7,218.1 321.6,214.8 358.7,217 208.9,323.6 291.8,274 167.2,354 212.3,339.5 154.1,368.5 299.6,236.5 376.2,208.1 293.4,238.2 293.7,235.6 379.7,176.7 235.9,302.3 283.8,258.2 346.5,220 204.8,350.1 317.4,255.9 169,357.9 244.3,299.8 202.4,362.3 257.5,275.3 207.4,340.8 162.1,371.1 260.1,293.9 248.7,282.1 325.3,191.9 129.2,405 301.2,227.5 153.3,381.2 268.8,301.1 135.6,391.2 382.8,144.4 269.2,251.9 267,279.4 166.4,383.8 339.8,210.6 222.1,330.8 265.5,256.5 322.2,230 341.1,230.1 247.8,286.3 161.8,383.4 436.7,92 219.6,317.6 152,368.7 297.6,258.7 367.7,154.9 173.2,349.9 154.2,373.2 311,203.2 287.1,257.5 220.4,307.8 221.8,310 334.3,225.7 136.3,395.4 216.2,318.9 242.8,303.5 336.2,241.2 232.6,311.1 158.7,383.5 327.8,227.3 313.7,202.5 186.5,318.7 323.7,202.7 298.4,279.7 243.9,317.2 288.4,236.8 245,156.4 465.6,56.6 473.8,62.2 442.2,73.3 454.1,70.7 447,83.3 457.1,84.5 466.4,75.2 488.7,96.7 515.6,63.6 382,98.2 412.5,90 415.1,93 418,95.6 470.1,93.7 359.3,125.3 367.9,127.9 338.2,136.5 349.3,136.5 477.5,145.8 464.5,148.7 457.1,143.9 449.6,143.2 445.9,143.2 474.9,130.2 473.8,110.5 468.2,111.2 462.7,113.1 464.5,122.4 428.1,202.6 408.8,206 415.1,196.7 399.5,195.2 414.3,239.8 307.3,177.4 315.9,175.5 301.6,347.7 377.6,271.6 414.2,240.5 302.3,307.3 303.3,315.1 297.8,199.4 310.1,169.6 160.2,317.4 182.5,295.1 114.8,369.1 246.4,354.2 202.9,284.7 212.2,286.6 102.6,425.9 98.9,415.9 427.9,202.8 409.5,205.5"/>
<path d="M100.4 420.4 L107.5 414.4 L114.6 408.5 L121.6 402.6 L128.7 396.9 L135.8 391.2 L142.8 385.6 L149.9 380.0 L157.0 374.3 L164.0 368.7 L171.1 363.1 L178.2 357.4 L185.3 351.7 L192.3 346.0 L199.4 340.1 L206.5 334.1 L213.5 328.1 L220.6 321.9 L227.7 315.6 L234.8 309.3 L241.8 302.9 L248.9 296.6 L256.0 290.3 L263.0 284.0 L270.1 277.7 L277.2 271.3 L284.2 264.9 L291.3 258.4 L298.4 251.9 L305.5 245.3 L312.5 238.6 L319.6 231.8 L326.7 224.9 L333.7 217.9 L340.8 210.8 L347.9 203.7 L355.0 196.5 L362.0 189.4 L369.1 182.3 L376.2 175.3 L383.2 168.4 L390.3 161.6 L397.4 155.0 L404.4 148.5 L411.5 142.3 L418.6 136.2 L425.7 130.2 L432.7 124.2 L439.8 118.3 L446.9 112.3 L453.9 106.3 L461.0 100.3 L468.1 94.2 L475.2 88.2 L482.2 82.1 L489.3 76.0 L496.4 69.9 L503.4 63.8 L510.5 57.6 L517.6 51.5" fill="none" stroke="#000" stroke-width="3.8" stroke-linejoin="round" stroke-linecap="butt"/>
<path d="M84.5 458.5L518.1 25.5" fill="none" stroke="#7c7c7c" stroke-width="3" stroke-dasharray="4.3 3.55" stroke-dashoffset="1.4"/>
<path d="M76.5 458.50H84.5M518.1 458.50H526.1M80.2 436.85H84.5M518.1 436.85H522.4M76.5 415.20H84.5M518.1 415.20H526.1M80.2 393.55H84.5M518.1 393.55H522.4M76.5 371.90H84.5M518.1 371.90H526.1M80.2 350.25H84.5M518.1 350.25H522.4M76.5 328.60H84.5M518.1 328.60H526.1M80.2 306.95H84.5M518.1 306.95H522.4M76.5 285.30H84.5M518.1 285.30H526.1M80.2 263.65H84.5M518.1 263.65H522.4M76.5 242.00H84.5M518.1 242.00H526.1M80.2 220.35H84.5M518.1 220.35H522.4M76.5 198.70H84.5M518.1 198.70H526.1M80.2 177.05H84.5M518.1 177.05H522.4M76.5 155.40H84.5M518.1 155.40H526.1M80.2 133.75H84.5M518.1 133.75H522.4M76.5 112.10H84.5M518.1 112.10H526.1M80.2 90.45H84.5M518.1 90.45H522.4M76.5 68.80H84.5M518.1 68.80H526.1M80.2 47.15H84.5M518.1 47.15H522.4M76.5 25.50H84.5M518.1 25.50H526.1M84.50 17.5V25.5M84.50 458.5V466.5M127.86 21.2V25.5M127.86 458.5V462.8M171.22 17.5V25.5M171.22 458.5V466.5M214.58 21.2V25.5M214.58 458.5V462.8M257.94 17.5V25.5M257.94 458.5V466.5M301.30 21.2V25.5M301.30 458.5V462.8M344.66 17.5V25.5M344.66 458.5V466.5M388.02 21.2V25.5M388.02 458.5V462.8M431.38 17.5V25.5M431.38 458.5V466.5M474.74 21.2V25.5M474.74 458.5V462.8M518.10 17.5V25.5M518.10 458.5V466.5" stroke="#000" stroke-width="1.1" fill="none"/>
<path d="M83.00 24.05H519.25V459.80H83.00Z M86.00 26.95V457.20H516.95V26.95Z" fill="#000" fill-rule="evenodd"/>
<g class="tk" text-anchor="end">
<text x="68.3" y="465.3">0</text>
<text x="68.3" y="422.0">1000</text>
<text x="68.3" y="378.7">2000</text>
<text x="68.3" y="335.4">3000</text>
<text x="68.3" y="292.1">4000</text>
<text x="68.3" y="248.8">5000</text>
<text x="68.3" y="205.5">6000</text>
<text x="68.3" y="162.2">7000</text>
<text x="68.3" y="118.9">8000</text>
<text x="68.3" y="75.6">9000</text>
<text x="68.3" y="32.3">10000</text>
</g>
<g class="tk" text-anchor="middle">
<text x="84.3" y="489.1">0</text>
<text x="171.0" y="489.1">2000</text>
<text x="257.7" y="489.1">4000</text>
<text x="344.5" y="489.1">6000</text>
<text x="431.2" y="489.1">8000</text>
<text x="517.9" y="489.1">10000</text>
</g>
<text class="ax" x="234.2" y="507.2">Observation [J/m<tspan class="sup" dy="-5.5">2</tspan><tspan dy="5.5">]</tspan></text>
<text class="tt" text-anchor="middle" x="322.6" y="66.3">Reading</text>
<text class="tt" text-anchor="middle" x="323.6" y="92">SZA<tspan class="sub" dy="5.5">N</tspan><tspan dy="-5.5">&lt;45°</tspan></text>
<text class="ax" text-anchor="middle" transform="translate(25,241.6) rotate(-90)">Model [J/m<tspan class="sup" dy="-5.5">2</tspan><tspan dy="5.5">]</tspan></text>
<text class="cap"><tspan x="249.1" y="563.9">(</tspan><tspan class="b" x="262.9" y="564.8">a</tspan><tspan x="284" y="563.9">)</tspan></text>
<polyline fill="none" stroke="none" marker-start="url(#m)" marker-mid="url(#m)" marker-end="url(#m)" points="928.5,304.7 888.5,352.9 857.4,405 995.1,223 949.9,306.4 1154.7,100.7 1057.9,203.4 1051.8,197.4 844.2,395.2 971.6,272.5 983.8,283 843.7,382.7 953.9,303.1 919.9,326.2 892.7,329 1036.8,220 941.1,300 862,382 929.1,309.7 1089.3,203.6 933.9,342.9 885.5,370.2 850,382.8 961.8,284 998.7,255.9 939.2,309.9 1056.5,188.1 964.5,286.5 1036.9,213.9 973.8,268.4 979.9,292.5 939.2,331.5 864,355.9 1008.3,270.8 1060.8,174.5 1014,210.9 940.8,315.9 856.9,376.7 885.1,367 970.6,276.4 996.5,234.1 833.1,402 1107.3,168.5 1011.1,258.4 1013.2,239.8 1155.7,91.5 987.1,248.1 957.3,274.4 894.7,357.9 1003.2,255.2 1006.9,220.1 1114.5,158.4 1101.2,150.5 957.1,301.5 1058.3,194.8 1118.8,111.6 940.1,304.9 983.6,261 980.5,291.1 954.6,311.7 952.1,301.9 894,338.2 885.6,342.6 914.9,326.1 980.2,281.7 996.6,252.9 1044.9,206.8 909.8,319.8 962.6,299.1 948.5,279.5 881.1,347.8 1144.1,119.1 921.3,342 1004.6,209.2 1004.8,234.3 1027.9,256.1 1050.4,228 1109.8,147.2 917.8,333.5 998.9,244.2 916.9,322.9 912.4,332.5 1035.3,188.4 1021.2,261.4 1016,255.8 867.9,371.2 1127,135.6 988.9,290.1 951.1,273.2 1088.2,152.2 864.6,383.2 913.2,347.3 873.7,367.9 919.4,343.1 1033.2,219.7 875.6,359 1024.9,235.6 981.6,236.2 919.9,306.1 1057.1,185 840.6,398 899.3,341.6 959.1,307.1 936.3,316.6 932.8,287.2 1182.9,100.3 970.1,301 997.1,257.5 949.1,292.9 888.4,349.2 862.3,365.5 1023.1,220.5 1013.4,237.1 1163.7,104.5 901.2,350 934.8,330.2 930.6,316.3 975.8,288.4 842.9,379.5 1036.9,241.5 1016.2,225.9 859.2,357.9 1010.4,210.6 922.2,296.6 943.7,303.6 889.1,344.5 1003.9,276.6 976.8,284.1 831.3,401.6 875.5,358.7 1016.1,221.6 871.2,388 951.6,269 999.1,246.8 880.9,359.6 958.5,275.9 940.9,318.8 872.9,370 1033.9,198.4 855.4,384.5 1047.7,239.5 919,321.7 926.8,317.1 894.6,328.6 1059.1,197 1184.9,74.1 885.8,349.1 989,273.6 840.8,394 935.8,307.8 893.6,338.1 989.9,298.4 889.4,338.6 985,258 1121.5,123.5 900.9,349.8 869.5,380.9 1060.1,210.2 845.2,401.5 1018.4,268.5 1076.4,198.6 871.4,375.8 962.4,284.6 1135.9,142.2 875.7,360.1 1050.7,205 999.8,272.6 851.9,376.5 881.2,321 1094.7,198.2 849.5,373.7 926.1,313.2 837.2,398.5 902.7,344.6 892.1,323.3 1034.5,249 854.8,370.6 864.5,388.5 968.6,271.6 888.6,360.7 963.4,260.6 844.8,408.8 885.5,348.5 923.1,304.2 1012.3,235.8 1048.3,212.8 886,374.8 960.5,296 1059.5,232.5 966.5,276.4 1034.9,253.8 1057.7,221.3 920.2,342.1 985.4,272 967.4,288.2 889.7,352.2 1013.6,279.6 1067.5,210 838.5,399.1 1116.1,107.4 845.1,394.6 937.1,299.8 853.5,370.5 931.8,312 974.7,283.6 959.5,279 925.6,312.5 963.9,295.9 1006.5,239 995.5,275.1 876.1,374.7 971.5,299.6 849.6,367.2 992.4,255 840.7,384.4 972.3,277.8 895.8,360.8 843.1,381 955.9,271.2 914.3,340.7 846.6,373.6 1031.8,243 896.6,370.8 996.8,240.6 940.2,320.1 1033.8,183.7 912.9,334.5 869.6,381.9 923.3,334.5 1000.6,278.1 916.4,340 1046.5,240.3 925.4,342.9 886.4,360.4 976.3,268.6 975,271.8 978,296.8 833.3,393.9 965.7,304.2 980.5,246.5 875.4,352.3 841.9,384.5 952.5,299.3 990.3,292.1 835.8,405.4 1034.2,229.9 920.3,330.4 906.4,340.6 976.8,248.6 856.9,397.1 1041.8,217.2 1083.6,204.9 830.5,402.2 921.3,343.1 853.3,389 866.9,377.6 1034.1,182.6 1005.5,226.7 894.8,371.4 815.9,417.6 988.9,278.5 950.5,285.8 1013.9,254.7 1027.9,232.7 1048.2,224.1 947,298 981.7,276.2 1096.1,178.3 939.2,327 958.5,296.7 922.6,308.2 995.3,234.8 976.9,242.5 1019.3,243.5 1029.4,203.5 867.6,375 1065.3,176.6 1022.3,207 863.5,373.4 935.6,325.4 910.3,334.9 1008.1,221.3 1190.5,101 939.4,310 922,306 955.8,297.6 1059.9,185.1 883.8,372.1 1011.4,258.5 914.6,320.9 1004.6,259.7 1064.2,156.7 927.3,314.2 1066.2,201.2 988.2,285.3 972.2,293 986.5,260.9 868.7,341.2 885,351 988.6,262.9 1083.3,174.5 856.3,391.5 977,271 1097.8,146.7 1002.2,238.9 1032,198.5 1055.9,170.6 958.9,292.8 969.9,287.9 1077.8,192.3 850.3,382.7 1005.7,238.6 1022.6,225 1054.6,184.8 967.6,267.1 1044,224.3 1099.5,153.5 842.7,398.4 823.9,399.8 875.3,353 1005.6,284.7 879.3,348 834.1,395.3 991.4,280.2 890.5,364.6 891.5,352.1 1003,240.9 969.7,281.5 1006.3,232 924.5,331.2 988.2,232.3 992.7,273.2 821.3,389.5 980.7,278.2 954,298 961.1,270.1 944.4,326.1 1173.9,92.7 972.7,264 889.6,356.2 1109.3,152.7 839.7,400.3 910.7,322.5 1034,205.6 999.7,283.2 886,366.8 1018.7,244.2 913.6,348.5 981.7,280.2 934.7,325.4 954.1,290.4 987.6,259.3 853.6,394.2 1021.3,271.4 907.4,336.6 846.9,379.9 891.6,348.6 864.8,375.3 864.2,369.9 1014.5,243.7 867.2,379 984.4,261.6 1057.3,179.5 837.7,398.9 929.1,309.1 1048.3,230.5 927.4,315.8 958.8,293.6 926.7,336.2 1017.7,232.2 1021.3,192 939.9,322.2 816.9,415.9 1065.4,197.5 892.1,360.9 1008.8,267.7 1061.8,222.5 930.2,296.3 868.4,369.8 937.2,300.8 881,369.3 886.7,358.3 1097.8,184.5 1055.7,184.7 889.9,375.8 963.7,278.9 955.8,280.2 841.5,402.2 1142,127.7 877.1,354.6 844.5,392.8 1092.4,172.9 979.7,243.8 1191.2,62.1 836.4,396.4 922.3,335.3 1004.4,266.1 943.9,301.4 1127.3,99.8 860.1,380.8 1019.5,226.3 964.6,302.3 872.4,365.1 924.1,320 904,339.8 1040.5,217.7 923.9,331.8 1003.8,264.1 1028.7,218.5 1099.3,155.3 919.4,334.3 932.5,326.2 1091.7,160.6 861.5,362.5 909.9,334 1078.4,172.7 903.3,361.5 936.3,331.1 842.9,390.6 1028.7,238.9 911.5,353.7 940.9,333.8 852,376.2 838.5,394.5 880.5,362.7 927.1,302.8 899.9,327.3 921,334.6 899.5,349.6 1105.8,149.1 899.8,344.3 986.9,274.3 961.9,295.5 1005.5,225.3 1065.4,208.3 1031.3,202.3 911.2,354 945.9,316.5 915.3,325.9 1028.9,247.3 901.1,367.3 952.6,299.4 1023.4,217.1 945.5,291.7 1007.5,241.2 984.9,271.4 909.6,321 931.3,332.1 977,277.3 952,293.2 1013.1,270.4 1002.6,242.1 872.8,368.9 876.8,367.6 859.1,365.9 917.6,334.2 826.8,401.7 959.7,321.2 922.2,315.1 861.1,381.6 1053.4,203.3 850,376 1004.2,250.1 893.4,371.7 1009.3,240.6 1062.5,178 906,358.1 1009.4,251.1 951.5,285.9 1018.3,255.7 865.8,372.2 819,416 972.7,284 971.2,291.3 843.7,394.1 971.2,287.2 968.3,284 863.9,368.8 982.1,277.1 895.9,336.4 1090.8,155.6 976.6,281.6 931.5,350.8 947.3,340 940.3,322.6 953.3,310.7 1001.8,250.8 1033.4,225.7 946.3,304.2 1060.2,212.9 1050.3,176.5 1130.3,155.4 986.1,252.3 983.8,255.4 860,380.1 858.7,369.5 1089.2,166.5 962.6,309.7 1025.1,227.6 999.4,268.1 1151.3,110.5 920.6,320.9 1007.8,267.4 1017.7,198.6 827.3,401.2 1000.3,229.9 878.1,356.7 932,339.4 883.5,337.1 832.1,396.5 898.7,348.1 960.1,281.7 1025.7,245.2 961.3,277.6 1054,191.9 897.1,339.6 860.6,371.9 1034.1,243.9 914.2,316.9 887.4,339.2 870.7,375.4 856.3,389.1 1013.3,240.3 878,353.4 1041.4,166 968.9,273.5 840,401.9 954.4,281.8 907.1,370.2 971.9,300.7 1095.9,147.8 978.6,256.8 1113.1,100.2 1000.7,273.8 1024,246 1047.2,205.6 923.1,299.2 970,292.1 927.8,326.7 1051.8,208.1 1050.8,223.8 983.5,281.3 975.3,278.3 905.2,322.9 934.9,319.7 900,358.9 996.2,268.1 866.9,372.5 888.4,356.4 1003.8,236.4 961.1,297.9 986.1,273.3 849.9,379.3 934.3,292.4 1170.9,86.8 951.7,282.9 1031.3,263.8 909.9,327.9 1064.7,196.7 925.9,318.2 898.1,356.8 833.8,394.2 843.8,393.9 931,319.5 1083.7,192.2 892.6,342.7 940.4,312.9 1070.2,167.4 1116.6,155.3 1023.7,258.6 920.2,329.8 990.1,256.8 891.7,348.6 983.8,259.1 972.1,298.8 1044.3,173.9 938.7,293.4 939.9,308.5 927.3,309.2 1078.6,151.1 1085.1,138.7 886.7,364.8 1064.6,204.9 898.5,362.3 1007.6,230.9 961.2,316 1111.3,179.4 884.4,360.3 856.9,362.5 1059.4,183.9 912.9,350 906,360.4 936.7,329.7 914.7,333.5 1003.5,277.2 981.3,284.4 1100.8,176.7 1032.4,229.8 1095.6,158.7 1020.2,255.6 865.5,375.3 841.4,395.6 840.7,390.5 906.8,323.9 931.5,307.6 899.1,335.4 850.4,384.5 830.1,395.5 866.6,367.1 962.9,296.8 860.9,370.6 964.5,294.6 1091.4,168.6 1034.7,220.4 943.9,331.7 1022.6,247.5 861.1,381.9 1099,155.7 1023,225.2 1029.4,233.8 824.1,416.5 966.8,292.9 1002.6,275.1 1116.2,136.8 1023.2,236.3 900,339.1 1097.8,152.4 1052.2,200.1 944.4,293.3 957.6,271.1 909,356.5 901.1,349.1 907.5,335.8 906.8,333.4 1007.4,232.6 912.7,332 881.8,359.4 883.6,353.1 835.2,397.6 1024.9,227.1 1017.6,259.7 953,326.1 910.4,352.1 995.1,261.9 892.3,346.8 919.1,327.1 1025.6,208.3 920.1,327 952.2,312.2 853.9,388.9 1068.3,207 920.9,312.5 968.3,262.8 928.7,307.6 945.9,305.7 1062.4,213.8 973.7,282.5 920.3,341.3 835.9,384.3 871,382.3 915.5,318.9 935.6,327.8 857.1,367.1 834.7,401.5 998,253.7 867.5,370.6 882.3,352.1 997.6,242.3 1018.7,212.8 869.8,363.5 868,375.5 1012.8,268.6 1176.5,83.9 1085.5,191.2 1001,257 1017.6,248.2 1111.8,141.3 946.6,306.6 1014.7,254.3 1018,211.9 869.1,376.3 1114,120 1005,231.1 1057.4,192.1 1117.9,129.6 842.3,393.6 982.1,288 964.7,261 846.5,376.8 1062.2,197.7 1075.2,172.8 856.2,383.3 931.8,314.6 989.7,307.2 847.1,369.9 920.6,315.2 945.6,292.8 862.8,388.1 1147.6,121.8 1030.6,208.8 975.5,255.5 923.1,323.5 1030.4,270.2 812.8,415.3 988.2,249.9 928.3,314.6 835.7,404.4 997.5,271.5 863.3,360.5 939.7,309.7 938.9,291.4 954,311 932.2,329.7 882.7,336 1022.6,264.4 828.6,401.9 932.4,302.4 984.1,257.2 1068.2,215.7 1054.2,167.4 901.2,349.4 833.6,403.4 1072.3,185.1 1071.1,153.1 1022.5,268.2 1056.1,203.9 822.9,406.4 980.9,290.1 851.3,397.1 1083.5,189.3 1110.2,121.9 844.6,391.3 1069.2,217.9 929,317.5 997.8,315.2 952,298.3 926.1,312.2 1021.6,238.5 946.3,305 1032.2,207.8 967.5,279.2 972.5,273.8 1020.3,207.6 912.1,330.3 902.9,337.1 933.1,308.8 929.4,310 1095.6,134 898.9,332.8 885,362.9 968.7,306.2 1047.8,224.7 994.9,259.2 1023.9,225.9 978.5,250.7 1035.6,168.4 1028.3,247.3 828.9,405.9 1094.9,199 1037.3,207 992.1,229.6 888.4,357 895.7,357.1 905.8,347.4 970.3,280.3 850,378.1 868.2,383.6 1092.4,189.8 992.7,247.8 868.4,381.9 915,321.4 923.8,312.1 1025.8,244.9 917.5,344.8 981,288.1 979.7,288.2 979.7,291.8 947.7,306.2 964.5,286.6 1018.9,225.5 917.3,319 940.7,294.5 1064.5,177.1 1002.6,241.1 891,369.3 938.8,322.4 895,339 885.8,362.6 884.8,360.5 1090,176.5 836.7,380.8 861.4,403.6 1106.2,158.1 1034.5,237.5 876.5,368.5 1013.8,225 1041.6,237.2 873.3,373.5 847.6,385.9 871.6,361.4 1132.6,149.4 1017.2,259.3 883,376.2 833.5,393.2 995,247.4 984.6,240.2 960.4,296.2 863.4,375.5 1094.1,175.1 934.7,301.6 1086.3,187.3 919.6,338.5 969.9,278.2 969,286.5 1131.8,106.5 1084,190.7 1000.6,262.1 961.3,266.7 972.1,263.3 949.2,315.4 905.7,351.2 1017,224.6 860.9,391.5 905.8,355.5 1021.6,228.4 1047,201.9 1188.4,76.1 887.7,367.6 859.3,387.3 1048.5,209.3 1084,157.6 999,248.8 966.3,237.9 905.4,350.5 881.9,346.9 869.8,383.5 946,305 1087.8,159.9 911.7,362.4 847.5,384.4 1008.7,247.2 959.2,301.9 932.2,338.1 1101.3,145 1044.2,252.1 990.6,259.5 1021.3,235.1 961,278.9 933.1,302.2 855,380.5 916.3,307.2 976.7,268.5 953.6,300.3 985.2,271 914,318.1 1003.2,283.5 829.5,405.1 938.3,309.6 1055.9,229.1 912.2,311.9 822.7,397.3 1146.5,118.2 936,303.1 892.4,375.5 816.3,417.9 1002.7,270.1 827,399 864.6,377.5 993.3,278.6 965.7,291.3 964.2,294 1097.7,183.5 895.3,363 855.7,394.4 1060.8,188.8 829.3,403.1 964.9,291.3 993.2,299 1090,174 1070.9,182.8 897.2,332.4 897.1,352 965,271.3 990.6,287.5 946.2,283.3 953.1,284.2 945.5,302.8 965.9,284.3 865.7,386.3 1011.1,225.5 1057.7,215.5 965.2,255.4 967.6,288.2 905.6,329.5 841.7,397.1 1060.4,203.2 1035.1,223.8 881.8,367.6 850.3,393.5 920.3,328.4 1094.2,181.1 876.5,362.4 959,286.3 1015.5,239.8 1137.6,134.9 926,332.8 912.6,354.1 929.5,322 1023.2,237.9 813.4,414.7 1000.9,259.7 931.9,306.5 865.8,380.2 981.4,290.7 1120.7,132.7 924.1,343.8 919.3,336.3 981.7,257.3 1104.4,143.2 990.9,245.5 867,373.6 915.5,320.8 891.1,343.3 971.6,264.4 961.3,298.6 887,335.9 957.4,308.3 964.6,264.6 1003.3,256.6 1026.4,217.5 945.7,306.3 921.5,338.9 874.9,365.8 933.2,298.7 884.7,347.6 1007.6,277.5 850.2,389.1 879.5,382.2 1121.1,149 886.5,354.4 998.8,252.9 1062.7,218 927.8,345.3 930,324.5 1046.4,221.6 903.7,329.3 1007.4,222.7 904.9,335 1041.3,259.6 1050.2,232 987.6,250.1 1059.7,215.7 1009.9,232.1 896.8,342.5 1029.5,202.3 888.6,349.5 925.7,316.5 937.5,296.3 966.8,272.4 816.1,401.5 982.9,296.2 1006.4,219 1001.2,218.7 923.9,301.9 1028.9,246.1 1036.1,239.3 1011.7,231.4 985.5,292.9 1089.6,188.8 909.5,352.6 1187.8,100 829.5,402.9 883.6,352 836.2,394.5 899.3,327.7 1056.8,210.9 886.3,369 940.2,330 966.9,275.6 996,276.9 955.1,279.5 1000.7,275.4 904.4,343.1 988.8,256.2 892.3,349.7 896.9,348.1 883.4,358 873.3,350.9 892.6,358.3 1089.7,186.8 829.6,405.6 994.3,244.2 968.2,268.2 1004.6,284.1 1057.7,230.9 1028.2,205.1 1031.3,192.4 838.5,391.1 878.2,367.5 963.2,300.2 962.2,311.4 995,274.5 1054.5,222.3 922,314.1 860.1,379.4 874.2,370.3 1141.5,144.5 943.7,286 985.4,228 968.1,262.2 842.1,389.7 833.1,401.7 1026.1,208.5 933.4,319 1021.9,234.8 963.6,277.3 921.8,335.9 922.8,317.1 960.3,301.1 832.2,397.3 953.2,322.7 1145.2,91.3 938.9,309.1 1195.2,71.8 941.4,309.6 985.4,256.2 1082.2,186.5 1130.2,115.6 989.9,255.5 905.6,333.9 904.8,342.5 939.5,325.4 881.8,373.1 944.9,301.4 962.5,308.5 821.2,417.4 874.5,354 992,271.4 991.8,292 920.7,327.3 905.6,324.2 849.3,391.8 1086.3,194.8 1041.1,229.6 1081.7,196.4 1188.2,84.9 969.6,303.8 914.3,334.6 1020.5,216.1 985.2,267.9 1014.6,258.1 1023.1,255.9 1012.4,276.1 884.9,367.8 1094,141.1 879.5,369 975.3,258.2 961.3,289.9 825.5,396.4 965.1,301.7 1041.1,237.9 916.8,320.5 1035.7,208.1 933.6,269.2 1056.3,209.1 1054.5,174.5 990.1,287.3 905.5,323.2 954.2,307.4 853,395.4 972.3,290 922.4,315.2 916.9,340 1088.5,137.1 852,392.7 896.3,340.5 1003.7,274.8 1030.5,235.5 926.3,336.4 905.5,327.8 824.7,405.6 1008.6,264.3 1011.8,272.1 851.7,388.6 1048.1,225 890.1,336.3 855.7,384.3 871.2,382.6 1064,191.5 829.4,395.4 960.8,295.3 907.2,347.5 818.3,415.2 1115.1,144.4 831.7,404.4 957.3,301.9 881.4,377.9 921,325.5 927.6,316.3 1109.4,123.5 1044.1,217.4 919,313.3 894.7,368.5 842.3,395.3 955.8,276.2 890.4,362.6 1018.1,211 1079.2,156.8 1015.9,213.5 978.4,278.2 1046.2,164.7 891.3,358.3 978.3,306.7 1046.5,199.4 906.4,364.7 961.1,308.2 975.3,269.3 1099.8,192.9 966.4,302.9 959.9,288.4 858.4,371.2 957.2,301.6 968.7,265 956.1,298.2 964.3,311.9 1008.9,229.2 999.8,279.4 864,386.9 1098.2,148.7 937.6,336.7 991,275 868,379.2 832.5,397.3 1016,251.1 880.4,366.4 933.8,299.8 967,257.8 917.2,331 986.7,245.5 919.9,330 863.1,375.8 907.6,338.6 1012.3,215.9 1015.6,235.1 865.9,383.6 996.4,265.2 1056.7,210.1 961,273.4 1067.9,144.7 974.4,298.3 952.5,285.6 1130.4,140.8 919.4,333.7 818.3,414 990.8,262.3 827.7,409.1 838.2,400.9 939.2,315.7 993.2,240.3 974.7,252.2 882.3,346.6 1128,153.3 942.3,308.4 903.8,334.3 1078.5,184.6 830.5,394 945.5,291.1 930,319.5 857.7,376.7 937.9,309.4 911.7,340 924,329.2 969.6,295.4 931.8,336.6 1033.2,241.8 982.6,280.3 962.7,275.3 1023.7,236.4 838.7,381.1 1016.3,204.9 882.9,370.7 1173.7,84.1 1025.3,250 1028.7,239.8 997.9,274.3 1074.4,193 1053.2,177.2 887.1,362.1 1063.4,177 1145.8,140.1 1106.9,136.2 1113.2,123.2 1022.5,235.1 892.6,368.3 1054.4,213.9 867.2,379.2 1157.4,81.9 905.4,355 887.6,351.7 1075.3,184.3 968.9,273.6 1101.7,168.5 889.6,347.2 884.6,345.9 1040.2,209.8 825.2,396.4 943.7,323.5 1158.5,116.2 898.1,335.7 857.4,389.1 1049.3,187.1 872,374.7 960.3,300.9 1057.8,205.8 869.8,362.6 985.3,285.1 990.5,239.4 1030.8,256.5 1116,156 1075.2,155.5 896.1,354.4 997,257 1030.6,226 1040.5,220.1 965.3,299.2 1007.8,225.3 921.9,337.3 911.7,349.1 934.6,336.6 890.7,354.6 963.5,296.8 1134.8,103.3 997.4,228 983.2,284.6 917.4,317.8 876.1,327.5 945.7,289.6 961.7,310.7 1081.1,196.2 973.6,270.2 945.1,310.7 974.7,293.2 884,360.5 856.8,371.3 903,332 971.4,255.7 1001.7,255.3 903.9,363 903.8,362.5 940.1,292.6 968.2,271.7 841.5,389.2 1052.8,214.4 971.7,285 921.5,332.2 976.1,269.6 1017.5,232.4 985.9,286.3 952.5,317.3 1018.4,221.5 963.5,300.8 1069,170.2 892,340.9 966.4,285.2 981.3,237.7 1127.4,150.9 952.2,306 1006.2,255.1 1000.8,229.1 1052.9,190 1046,237.8 867.2,382.1 938.5,298 915.1,336.5 973.1,263.6 833.2,391.1 896.5,354.7 1008.5,257.5 1133.4,115.1 918.5,332.6 825.8,402.8 970.7,253.3 1025.2,192.9 856.6,373.2 1029.1,190.1 984.6,250.4 876,333.5 898.9,359.1 1014.2,246.6 939.6,295.7 1079.2,192.8 844.8,399.5 923.8,318.2 821.8,413.6 1116.6,139.5 920.1,314.6 1002.8,251.1 839.1,403.5 1020,209.6 998,231.8 1149.8,91.5 911.2,337.3 1085.5,153.9 892.2,361.4 921.3,318.8 1039.3,198.5 990.8,274.2 1032.6,227.1 1046.8,244.7 1008.3,244.3 841.5,394.2 1057.4,212.5 1023.8,215.6 1006.8,228.9 874.5,375.4 1089.6,186.5 1110.3,160.3 883.1,350 865.4,381.9 890.8,342.7 1136.6,146.7 1013.5,248.9 1008.2,264 976.3,285.2 910.9,296.8 952.5,310.3 979.8,257.1 901.2,365.6 849,398.9 975.1,280.4 992.5,261.8 1001.7,270.3 933.9,308.5 1113.7,107.4 839,400.6 943.3,308.1 1001.6,249.4 946.1,309.2 957.1,308.3 956.6,298.4 843.1,390.8 984.8,262.6 1111.1,152.9 1070.9,168.4 1118.1,184.2 921.4,300.6 990.5,222.3 986.6,275.5 916.3,337.5 1021.6,206.6 1048.7,246.6 1020.3,236.7 1144,138.6 1060.6,194.1 828.5,402 1079.6,159.8 841.8,393.4 1062.3,158.8 945.7,310.6 976.3,277.2 951.2,285.1 972.7,320 998.7,251 1063.7,212.5 879.6,367.8 1100.9,166.1 986,255 1138.4,92.4 942,299.7 847.3,380 952.8,285.1 872.5,360.7 925.7,348.7 986.6,233.7 994.6,253.5 980.1,253.9 1025.1,261.7 927.2,304.1 868.2,355 845.3,386.5 1047,217.4 1033.6,212.7 1032.1,243.2 906.2,346.7 1045.8,218 882.7,360.9 889.5,348.2 1114.1,147.7 875.6,362 1042.8,195.3 1107.6,184 1056.6,196.2 997.7,250.2 899.1,350.8 908.4,348.3 1164.1,91.3 1065.8,178.2 934,293.7 878.2,370.8 949.4,288.4 1054.6,227.9 990.1,259.9 994.4,246.5 853.8,393.6 966.7,267.3 879.2,363.4 924.6,332.1 1077,178.8 965.5,279.8 825.2,414.9 879.8,376.2 857.7,374.2 851.4,393.5 1000.4,240 872.1,379.2 914.4,310.6 875,353.1 959.8,309.8 1043.3,213.7 823.5,398.8 1054.3,210.2 1121.8,179.5 956.5,289.2 890.4,365.1 1100,158.3 860.9,379.4 998.6,257.3 1020.9,216.4 918.7,344 1008.5,215.4 1044.5,223.4 862.4,377.4 942.2,312.3 921.5,327.6 1003.8,240 932.3,309.9 1010.8,235.2 962.7,304.9 950.5,316.1 941.8,329.6 1044,258.1 1141.2,117.1 916.9,309.2 930.2,357.9 980.6,252.8 840.1,395.3 863.3,387 891.3,358.6 960.8,280 842.3,396.1 1031.5,241.2 882.1,348.3 851.8,389.4 863.8,390.2 948.7,321.2 938.9,293.9 937.1,328.6 891.6,349.9 1092.5,185.6 1048.3,184.1 975.1,268.5 1061.8,204.3 917.2,324.4 888.4,360 1013.2,243.1 1062.4,195.7 1045.7,228.9 988,310 859,374.3 1055.8,210.9 902.8,342.9 940,311.2 935.5,332.3 1012.2,254.3 938.6,304.8 993.5,237.8 873.2,364.2 866.7,365.4 823.1,408.6 835.4,396.2 944.7,310.5 911.2,338.6 914.4,337.4 1045.3,224.6 913.1,324.1 1025.4,218.9 1119.2,150 956.4,303.2 977.2,272.1 927.4,332.2 831.4,397.3 1015.1,200.4 937,334.3 962.9,276.4 859.5,369.7 1176.7,93.4 1051.6,231.4 931,313.5 970.6,279.4 1030.5,199.2 1007.7,303.8 1025.2,223.6 1149.6,107.4 1078.3,153 1000.5,274.4 1102.5,184 909.5,351 932.5,313.3 990,295.9 1134.8,141.3 971.9,259.5 960.4,286.3 831.8,404.6 1065.1,216.2 1009.9,254.1 976.1,267.8 997.2,282.5 945.3,323.2 955.1,276 991.3,278.2 1003,274.7 1047.1,171 1054,200 848.9,390.8 1097.8,154.2 1002.1,227.4 878.4,379.1 864.4,367.7 879,338.4 1042.6,201.1 978.7,281.3 922.2,324.8 988.5,270.2 932.5,321.6 815.9,412.2 941.1,309.7 924.2,325 1021.3,255.2 1024.9,198.3 910.9,349 877.8,365 935.8,339.5 914.8,322.3 1032.6,192.2 828,412.1 1042.4,230.5 1092.5,147.4 889.5,333 1035.6,189.9 1048.7,183.2 1015.7,269.7 965.2,291.1 865.6,397.3 912.6,336 1045.1,215.1 849.1,393.4 986,274.4 1100.6,163.8 898.5,345 939.5,289.1 905.3,327.6 933.4,317.2 1115.1,126.9 1071.6,185.4 1067,155 878,370.6 1011.6,246.9 970.9,258.7 988.8,277.8 907.2,326.3 1140.3,101.6 913.1,341.4 868.1,366.6 925.3,328.1 1011.1,218.8 994.9,240.2 905.3,331.7 974.5,293.7 972.6,261.5 1053.8,215.6 973.7,277.4 1099.2,156.5 896,338.3 914.1,330.1 893.2,344.7 970.3,291.1 856.5,388.7 977,307.8 1062.6,168.4 861.2,365.2 1018,274.2 939.9,309.5 853.7,383.6 966.9,286.9 1062.2,193.8 981.9,266.5 961.7,274.2 842.2,395.1 857.7,376.6 826.7,405.5 1017.2,248 894.2,347.1 1020.9,261.1 1003.6,280.7 942.9,327.6 1039,224.6 868.2,369.3 868.1,369.9 844.3,393.7 951.9,296.5 1034.7,240.7 888.9,375.1 909.2,328.6 972.8,298.8 985,255 856.5,349.1 1021.2,240 986.5,251.2 888.4,357.4 927.2,310.4 954.1,310 1022.1,236.4 875.4,370.6 839.8,403.9 960.4,243.4 1022.3,236 994.1,239.8 1166.3,89.7 862.9,364.9 904.4,349.8 817.7,412.7 889.7,348.7 1014,251.2 929.4,334.6 855.3,369.3 1034.1,223.3 1047.6,168.6 875.5,381.2 886,352.7 1004.8,279.9 1024.2,248 1170.6,89.7 835.6,398.3 1014.5,216.8 857.2,375.5 949.3,306.1 858.5,390.4 1180.8,75 1092.4,174.8 862.3,372.7 961.4,312.6 983.1,271.8 909.6,342.1 957.3,315.4 952.2,286.4 811.1,418.1 1026.3,203.6 881.4,360.6 908.4,351.2 879.5,380 941.8,283.7 858.5,386.8 1050.7,213.2 934.1,293.9 991.1,280.7 1052,215.8 966.4,292.7 862.6,381.5 973.8,282.8 863.6,382.8 829.5,408.3 880.1,377.9 947.4,318.2 1001.2,261.8 860.5,362.7 965.8,277.4 900.3,325.9 955.1,311.9 864.2,365.9 1033,203.9 1039.6,192.5 919.6,340.1 1069.4,159.2 1039.5,181.7 999.2,220.6 1025.4,264.8 1030.1,253.1 1027.4,190.7 1013.5,237.9 947.8,289.9 1092.3,185.1 1007.1,229.7 928.1,297.9 941.3,312.5 981.8,263.5 878.1,365.5 1127.9,112.3 827.8,401.7 1028.2,267.1 881.5,367.1 990.4,261.6 1160.8,118.6 935,298.7 1052.5,220.6 1079.7,149 930.1,316.4 950.8,303.6 1001.5,237.8 970.6,288.6 913.5,320.4 950.8,309.2 884.9,347.4 1079.5,220.6 979.5,276 990.7,295.9 893,362.4 1017.1,234.8 1026.3,212.1 980.5,263 982.3,235.3 1017,228.6 1155.2,113.5 882.7,363.7 891.8,373.8 996.1,247 815.3,413.4 1162.1,87.6 932.4,324.5 866.5,375.3 1107.9,153.3 907.1,326.6 1009.7,235 1104.8,126.8 938.3,315.3 1038.3,224.7 885.2,369 846.7,395.2 968.4,302 971.4,258.7 1054.6,221.7 978.9,296 937.9,306.2 943.2,316.1 998.9,289.2 1031.4,202.6 968,305.3 997.2,267.8 1009,275.6 920.5,324.8 1038.7,223.9 1124.7,136.8 986,241.2 918.2,338 888.4,359.3 1048,208 1067.2,190.5 975.3,285 1118.6,156.1 936,294.6 1079.5,176.9 1075.9,186.4 981.5,284.9 1032.5,212.5 946.2,276.5 946,290.2 1096,172.2 951.4,287 978.5,264.8 944.2,300.2 860.9,384.2 890.6,359.8 949.4,313.8 880.7,364.1 1049.3,171.2 963.4,273.5 988.1,266.4 973,260.1 917.5,344.7 992.9,245.1 842.3,390.2 875.1,369 966.4,291.7 879.6,368.5 990.3,263.6 1089.9,171.4 860.1,387.1 819.8,420.1 925.7,330.7 992.1,282.7 925.5,339.7 989.3,270.8 1028.7,250.6 938.4,311.7 846,395.7 1030.9,206.4 1074.1,202.5 1101,157.3 938.3,332.6 1042.3,172.2 1001.3,281.9 1064.4,199 1100,169.3 934.9,313.8 887.7,361.4 986.7,254.5 932.5,318.6 905.4,323.3 1153.3,113.9 1111.4,146.5 1006,256.9 831.6,397.9 859.9,385.1 826.8,398.4 874.7,370.1 957,279.4 890,332 990,255 929.1,313.8 927.6,339.5 845,380.5 1140.8,98.5 1009.9,270.7 1005.5,220.1 974.3,281.1 924,342.7 1041,260.6 857.8,386.9 929,334.4 1091.6,139.5 1018.5,244.4 878.6,346.9 998.5,254 911.4,335.5 1013.6,244.5 1078.9,193.3 1015.3,212.5 948,278.3 1128.3,117 900.2,360.9 1019.2,218.6 1001.4,245.5 957.5,293.8 1108,143.7 1034.5,189.5 895.6,344.1 1025.3,213.3 1008.8,251.1 888.4,363.6 923.8,316.3 900.1,334.9 862.5,391.7 936.4,308.8 892.5,348.1 893.6,348.3 884.5,365.5 954.2,301.1 991.8,280.6 1053.1,205.7 904.5,321.7 906.7,347.1 980.6,256.6 1152.5,111.8 1048.3,220.2 997.9,283.6 884.5,355.6 953.2,276 1031.5,249.7 897.4,348.9 837.2,404.5 1093,189.2 1073.1,170.2 873.5,380.5 1010,206.2 1053.5,167.5 842.6,393.4 966.3,277.7 814.2,420.1 1016.2,244.6 893.2,365 847.6,376.4 1097.9,182.2 853.7,393.9 1027.6,250.2 1011.5,249.6 848.6,380.7 854.6,367.9 971,299.8 1120.5,161.6 907.4,333.9 1024.7,213.7 974.3,299.3 917.3,318.6 915.8,346.3 1037.7,248.3 976.6,258.5 827.3,405.1 989.7,281.7 957.9,273.8 1059.4,197.4 1150.8,123.4 922.7,319.6 964.2,296.9 844.2,386.2 921.8,315.1 853.2,376.9 1013.9,218.7 1037.2,221.1 1067.7,192.4 885.2,349.3 1016.9,259.6 997.5,265.6 934.6,315.3 856,385 1088.6,169.4 992.9,236.6 991.6,283 926.4,313.7 849.7,388.2 826.2,393.6 812.7,409.5 833.8,408.2 952,283.2 1035.1,231.7 862.1,376.3 1007.9,229.5 990,244.6 979.2,250 958.6,278.4 1042.1,218 1019.6,252.7 1037.5,232.5 1014.9,230.6 963,310.4 935.7,307.6 948,336.5 932.6,315.4 939.1,317.5 1039.7,205.1 977.3,262.6 1009.4,228.1 955,289.1 1048,183.8 974.3,253 991.9,255.6 1058.4,198.5 851.5,395.4 1094.4,108 1076.8,165.7 1001.2,209.3 887.7,391.9 844.2,384.1 903.6,346.9 862.8,378.2 1048.6,216.2 945.1,320.9 970.9,292.3 1052.7,209.1 1028.5,233.5 993.6,256.8 908.6,368.1 963.1,269 1101.8,152.5 974.2,257 854.7,382.6 997.4,256.3 918.6,343.6 1017.1,222.8 999.9,205.4 897.7,354.6 995.8,201.9 944.5,299.5 889.1,364.2 1064.6,210.1 1009.9,229.2 944.3,284.3 968.1,289 895.4,369 883.4,345.7 861,380.1 1068.7,158.9 1105.3,117.7 966.7,287.9 896.6,357.7 954.3,300.5 868.1,378.1 934.7,297.8 883.3,363.7 960,293.3 997.4,214.9 929.2,304.8 848.2,393.2 1130.1,110.3 961.4,242.3 833.6,400.4 911.9,322.2 978.5,275.9 824.8,402.7 1003.7,250 933.7,326.3 1004.3,271.3 1060.2,201.9 997.3,247.2 952.2,299 1157,127.3 1004.5,250.6 1103.5,142.8 934.2,302.2 1150.5,131.5 969.2,252.1 827.2,399.5 1072.1,206.2 975.4,285.2 929.3,322.9 1034.1,248.1 969.7,260.7 961.1,270.2 859.7,370.1 916.2,351.2 1012.5,215 970.2,305.1 1059.8,210.1 959.8,286.9 1015.5,240.2 1083.7,150.6 983.8,250.7 919.1,325.1 939.4,313.1 1069.2,176.4 1021.5,224.4 1131.4,137.8 897,344.4 1065.1,206.1 1096.6,203.3 986.7,256.1 1118.8,168.3 880.9,364.9 935.6,323.2 970,283.7 1047.1,234.4 951.9,310.2 1033.4,205.7 999.8,289.9 955.5,297.9 894.3,368.5 859.2,380 981.9,270.3 965.9,271 924.1,336.7 988.4,283.1 1046.8,206.2 1077.2,203.2 905.6,336.9 996.8,243.7 905.6,336.4 908.3,343.5 1040.8,219.9 1016.2,258.9 1014.1,247.8 1041,230.2 892.5,357 986.5,274.7 946.2,289.2 1034.3,259.5 1007.9,217.2 904.4,353 1042.8,213.7 918.1,314.5 875.3,354.9 891.2,366.2 878.6,345.1 1048.2,232.4 959.3,293.9 907.2,354.3 888.5,343.1 969.5,313.9 1059.6,218.1 1053.5,224.9 1008.4,253.1 998.4,257.5 890.2,337.3 871.2,366.8 1069.6,200.2 1009.1,258.5 986.2,276.3 933.2,299.7 986.9,253.3 977.1,245.5 894.8,363.9 949,324.9 916.3,328.1 996.3,281.7 827.4,410.2 964.5,307.9 870.9,379.1 872.4,363.8 969,291.7 1113.3,143.7 933.3,282.3 1115,163.3 853,381.9 877,368.9 968.6,276.1 833.5,400.2 945.7,312.6 977.3,265.3 899.8,336 871.7,385.7 992.9,226.1 955.9,294.6 972.4,280.1 962.1,300.2 873.1,379.9 981.4,264.9 1122.7,125.5 862.2,365.6 954.2,301 1077.3,155.9 861.9,347.1 1096.3,144.9 916.5,345.5 1158.2,125.1 958.3,293.1 1030.3,202.4 890.9,356.1 1075,209.2 859.8,392.3 911.5,323.3 975.4,268.2 865,373.3 902.9,383 924.6,310.2 943,316.7 1093.8,135.9 1128.2,147.6 936.8,312.1 1140.3,100.6 876.4,351.2 954.5,316 936.9,349.6 1038.9,259.6 932.8,325.4 879.5,344.7 1037.1,244 944.6,316.9 896.2,338.4 937.5,319.3 856.8,370.1 874.1,361.6 901.4,347.6 941.1,316 930.1,298.5 921.3,334.7 862.7,362.7 963.5,281.8 895.4,323.1 1014.8,271.2 1099.6,164.1 1118.9,151.6 917.4,339.3 972.7,260.6 1006.4,236.2 915.4,344.7 1045.6,201.8 923.8,331 868,381.1 978.6,288.4 1142.2,118.8 891.7,350.6 858.4,377.6 926.6,332.7 859.3,367 1065.9,189.4 909.6,339.5 897.9,351.3 907.8,346.9 886.6,345.7 1063.4,165.2 968.7,302.2 947.1,320.1 949,312.7 1135.5,129.4 1039.2,196.3 1009.1,216.7 956.5,290 1071.8,214.5 963,308.8 1007.4,238.1 1071.5,204.2 932.7,313.3 928.4,330.8 1006.1,239.9 1072.1,154.9 1040.1,198.6 1028.9,202.4 885.9,354.1 1015.1,241.3 819.4,406.3 995.4,245 1110,126.7 976.4,253.1 942,298.1 943.3,351.9 950.1,294.9 1035.9,229.9 867.9,366 965.8,302.5 988,236.3 841.2,387.7 861.2,383.4 1127.1,143.9 1003.2,267.7 987.6,297.4 920.3,340.5 859.2,374.2 1110.1,154 1125.1,106.1 955.5,283.2 844.6,399.7 931.3,297 850.9,391.8 978.6,271.6 871.2,379.9 865.5,395.1 971.6,294 1028.8,212.6 1026.5,238.2 861.5,370.2 1138.5,119.1 879.1,354.7 870.6,349.7 900.7,315.4 837.6,398.9 821.6,412.4 1064.6,188 831.9,393.3 854.8,383.7 947,299.6 871.5,365 892.7,340.8 1088.8,121.5 1000.9,264.3 990.9,261.9 977.9,255.4 915.9,322.2 882.5,351.9 958.3,275.4 945.5,301.1 987.8,253.9 972.5,280.5 1077.4,155 969.6,295.7 1020.1,256.8 1101.2,186.8 953.7,288.5 1015.4,254.3 1100.7,181 967.9,269.5 837.7,403.8 886.8,360.4 871.7,372.1 1052.4,167.4 952.1,282.4 1071.6,201.5 967,289.8 878.3,367.1 974.2,309.6 982.2,243.7 988.7,282.5 1093.9,175.9 1068.4,176.6 993.6,263.4 850.3,387.2 896.6,372.1 852.7,373.1 987.6,268.9 1142.6,101.1 865.8,380.2 1010.3,218.2 1096.4,185.1 1055.3,190.4 847.1,388.4 1013.4,214.6 1017.3,219.2 916.1,325.4 1150.4,134.9 939.5,322.6 1057.3,170.3 1113.1,124.1 935.1,315 883.7,352.5 946.1,306.3 948.6,325.8 977,284.9 896.5,340.6 1087.2,167.7 945.9,287.3 883.8,356.5 989,283.8 874.3,376.7 1065,217.9 966.3,305.5 860.7,385.2 881.4,347.3 1068.2,150.1 856.5,395.4 813.6,415.9 906.7,330.5 975.6,267 1074.5,184.2 1029.8,216.2 942.9,329.4 1070.2,180.5 955.7,290.9 1042,182.5 862.2,380.3 997.1,264.2 828.2,395.8 1114.5,114 973,282.8 1016.2,260.4 933,327.3 1190.6,66.7 916.1,343.9 1023.3,200.9 909.6,316.6 928.4,342.5 866.7,367.7 974.7,267.8 968.8,270.9 970.1,269.5 951.3,285.4 1049.2,195.2 974.7,286.6 1072.6,182.1 935.9,298.4 1023.6,256.9 862.3,383 1060.9,160.4 1014.3,220.2 951.6,299.5 960.5,295.5 1094.8,176.2 980.9,302 885.4,366.4 1079.4,184.3 924.9,338.9 933.7,324.9 980.3,268.8 945.1,315.5 908.2,345.5 903.9,362.8 940.9,316.8 983.5,286.4 930.8,306.1 1044.7,167.3 823.1,415.9 951.5,305.9 939.3,325 1041,222.3 860.9,401.1 1008.8,264.8 1060.8,161.3 984.1,274.3 924.9,335.2 1002.8,241.5 965.6,266.3 960.2,296.8 1087.1,165.6 957.8,304.1 844.9,401.2 863.9,384.8 962.3,284.8 1025.5,232.1 934.2,333.3 1095.2,190.7 854.7,389.1 915.2,345.4 885.3,355.4 988.4,281.8 980,290.9 1061.8,225.4 932.8,303.1 1081.2,142 976.5,309.6 1171.7,100.2 1077.7,162.9 910.7,321.4 1097.5,153.9 988.4,247.5 1095.6,179.8 864,382.9 898.9,336 947.8,300.9 1056,207.2 1061.8,202.2 939.2,304.7 987.1,263 918.2,318.6 1141.8,154.7 835.1,403.8 1030.1,226.6 994.9,244.5 852.8,388.3 938.3,293.8 916.8,341.8 988.3,295.5 873.8,370.9 851.6,370.2 845.3,393.4 871.8,372.9 1031.6,231.1 962.2,310.2 1038.6,218.8 1042.9,229.6 859.3,367.8 1029.4,241.9 957.8,282.1 871.9,363.5 1132.5,127.5 1064.2,214.9 848.7,381.8 995.3,256.8 1122.2,100.1 974.8,260.8 845.3,376.2 1030.3,209.5 957.4,303.3 969.8,272 924.8,306.6 967.3,290.1 1010.5,232.2 1030.5,224.8 1053.3,202.3 862.3,369.1 896.1,337.3 886.6,361.4 961.7,296.3 997.5,208.3 1100.2,188.3 832.7,407.9 968.5,274.5 1011.1,275.1 885.4,341.4 965.3,271.7 1084.8,180.4 942.9,306.2 874.7,367.2 1121.3,186.5 1014,244.2 939.6,309.6 905.9,335.8 879.6,364.2 964.4,306.6 872.7,362.4 1099.5,185 941.1,303.5 976.2,292.8 981.4,275.7 1079,210.3 1104.3,159.4 1077.3,167.5 959,310.4 916.3,335.9 955,302.2 1046.9,187.4 934.9,307.4 988.9,263.1 1118.3,100.5 1111.3,175 986.5,241.4 900.7,363 1066,168.4 839,399.9 943.5,328.7 898.7,343.8 926,336.9 919.9,338.7 927.2,304 1051,174 872.1,370.5 1117.5,143.7 929.2,319.1 846,387.3 965.2,262.2 905.4,342.8 1031.7,217.9 1042.3,215.8 943.8,308.7 904.3,341.1 999.9,258.6 1040.3,200.7 917.7,350.3 870.4,361.3 963.9,291.7 836,403.4 920.6,312.3 882.1,364.9 887.9,348.3 889.1,369.6 1007.5,246.4 956.2,310.9 891.6,370.6 992.5,250.3 970.7,325.7 963,273.1 960.6,282.2 983.4,274.7 950.3,289.3 1073.8,202 959,269.8 1023.2,227.8 1009.9,208.2 936.1,323.7 967.2,263.9 926.9,311.7 942.3,322 883.1,355.7 923.1,308.6 909.7,356.3 952.7,306.9 969,281.6 849.7,394.5 979.1,251.6 1008.1,238.2 970.4,261.6 942.7,295.6 950.3,321.2 991.1,283.4 944.2,324.1 977.9,272.2 879.9,369.3 965,303 994,231.3 968.9,280.3 930.5,322.2 851.6,384 933.4,295.1 953.1,286 837.6,392.5 1003.9,263.3 866,365 1041.4,194.4 922.2,347.3 1068,158.3 934.4,312.3 943.8,311.9 1066.5,211.1 834.7,405.9 1061.3,171.2 942.2,302.2 1159.7,102.5 825.7,407 931.3,347.9 868.9,384.1 1107.8,134.5 926.7,301.1 1003.8,280.6 1081,162.1 958.2,293.1 1033.2,226.9 1043.7,173.1 845.6,389 1048.1,222.3 907.9,344.1 900.7,367.5 917.4,330.1 938.4,327.8 1041.6,187.2 1026.5,216.9 909,353.8 819.5,287.8 819.5,316.1 946.6,168.9 882.7,302.7 862.6,321.3 994.1,351 1067,280.4 1100.4,246.9 1115.3,213.5 1206.2,78.4 1157.5,71.5 1165.8,76 1157.5,91.1 1175.3,111.2 1160.3,109.6 1163,125.1 1155.5,126 1133.9,90.9 1105.6,105.7 1070.7,113.2 962.9,217.2 1007.5,182.3 1156.1,159.3 1147.2,157.8 1163.6,139.2 806.9,414.2 811.4,428.5 807.3,416.2 819.1,423.4"/>
<path d="M808.5 420.2 L815.2 414.7 L821.9 409.3 L828.7 404.0 L835.4 398.6 L842.2 393.3 L848.9 388.0 L855.7 382.6 L862.4 377.2 L869.2 371.9 L875.9 366.4 L882.7 360.9 L889.4 355.3 L896.2 349.7 L902.9 343.9 L909.7 338.1 L916.4 332.1 L923.2 326.1 L929.9 319.9 L936.7 313.7 L943.4 307.4 L950.2 301.1 L956.9 294.8 L963.7 288.4 L970.4 282.0 L977.2 275.6 L983.9 269.3 L990.6 262.9 L997.4 256.7 L1004.1 250.4 L1010.9 244.1 L1017.6 237.7 L1024.4 231.2 L1031.1 224.6 L1037.9 217.8 L1044.6 211.0 L1051.4 204.2 L1058.1 197.6 L1064.9 191.2 L1071.6 185.1 L1078.4 179.1 L1085.1 173.3 L1091.9 167.4 L1098.6 161.5 L1105.4 155.5 L1112.1 149.3 L1118.9 143.1 L1125.6 136.7 L1132.4 130.3 L1139.1 123.9 L1145.9 117.5 L1152.6 111.0 L1159.3 104.7 L1166.1 98.4 L1172.8 92.1 L1179.6 86.0 L1186.3 80.1 L1193.1 74.3 L1199.8 68.7 L1206.6 63.3" fill="none" stroke="#000" stroke-width="3.8" stroke-linejoin="round" stroke-linecap="butt"/>
<path d="M792.5 457.1L1225.3 23.9" fill="none" stroke="#7c7c7c" stroke-width="3" stroke-dasharray="4.3 3.55" stroke-dashoffset="1.8"/>
<path d="M784.5 457.10H792.5M1225.3 457.10H1233.3M788.2 430.03H792.5M1225.3 430.03H1229.6M784.5 402.95H792.5M1225.3 402.95H1233.3M788.2 375.88H792.5M1225.3 375.88H1229.6M784.5 348.80H792.5M1225.3 348.80H1233.3M788.2 321.73H792.5M1225.3 321.73H1229.6M784.5 294.65H792.5M1225.3 294.65H1233.3M788.2 267.57H792.5M1225.3 267.57H1229.6M784.5 240.50H792.5M1225.3 240.50H1233.3M788.2 213.42H792.5M1225.3 213.42H1229.6M784.5 186.35H792.5M1225.3 186.35H1233.3M788.2 159.27H792.5M1225.3 159.27H1229.6M784.5 132.20H792.5M1225.3 132.20H1233.3M788.2 105.12H792.5M1225.3 105.12H1229.6M784.5 78.05H792.5M1225.3 78.05H1233.3M788.2 50.97H792.5M1225.3 50.97H1229.6M784.5 23.90H792.5M1225.3 23.90H1233.3M792.55 15.9V23.9M792.55 457.1V465.1M819.60 19.6V23.9M819.60 457.1V461.4M846.64 15.9V23.9M846.64 457.1V465.1M873.69 19.6V23.9M873.69 457.1V461.4M900.74 15.9V23.9M900.74 457.1V465.1M927.78 19.6V23.9M927.78 457.1V461.4M954.83 15.9V23.9M954.83 457.1V465.1M981.88 19.6V23.9M981.88 457.1V461.4M1008.92 15.9V23.9M1008.92 457.1V465.1M1035.97 19.6V23.9M1035.97 457.1V461.4M1063.02 15.9V23.9M1063.02 457.1V465.1M1090.07 19.6V23.9M1090.07 457.1V461.4M1117.11 15.9V23.9M1117.11 457.1V465.1M1144.16 19.6V23.9M1144.16 457.1V461.4M1171.21 15.9V23.9M1171.21 457.1V465.1M1198.25 19.6V23.9M1198.25 457.1V461.4M1225.30 15.9V23.9M1225.30 457.1V465.1" stroke="#000" stroke-width="1.1" fill="none"/>
<path d="M791.05 22.60H1226.60V458.20H791.05Z M794.05 25.20V456.00H1224.00V25.20Z" fill="#000" fill-rule="evenodd"/>
<g class="tk" text-anchor="end">
<text x="775.1" y="463.9">0</text>
<text x="775.1" y="409.8">500</text>
<text x="775.1" y="355.6">1000</text>
<text x="775.1" y="301.4">1500</text>
<text x="775.1" y="247.3">2000</text>
<text x="775.1" y="193.2">2500</text>
<text x="775.1" y="139.0">3000</text>
<text x="775.1" y="84.8">3500</text>
<text x="775.1" y="30.7">4000</text>
</g>
<g class="tk" text-anchor="middle">
<text x="792.3" y="487.7">0</text>
<text x="846.4" y="487.7">500</text>
<text x="900.5" y="487.7">1000</text>
<text x="954.6" y="487.7">1500</text>
<text x="1008.7" y="487.7">2000</text>
<text x="1062.8" y="487.7">2500</text>
<text x="1116.9" y="487.7">3000</text>
<text x="1171.0" y="487.7">3500</text>
<text x="1225.1" y="487.7">4000</text>
</g>
<text class="ax" x="941.8" y="504.9">Observation [J/m<tspan class="sup" dy="-5.5">2</tspan><tspan dy="5.5">]</tspan></text>
<text class="tt" text-anchor="middle" x="1030" y="64.3">Reading</text>
<text class="tt" text-anchor="middle" x="1031" y="89.8">SZA<tspan class="sub" dy="5.5">N</tspan><tspan dy="-5.5">&lt;45°</tspan></text>
<text class="cap"><tspan x="967" y="563.9">(</tspan><tspan class="b" x="980.3" y="564.8">b</tspan><tspan x="1006" y="563.9">)</tspan></text>
<polyline fill="none" stroke="none" marker-start="url(#m)" marker-mid="url(#m)" marker-end="url(#m)" points="1682.1,289.8 1709.2,282.5 1789,191.9 1637.8,336.8 1713.5,276.2 1663,295.1 1750,217.9 1703.8,290.9 1624.2,339.8 1698,254.4 1634.7,333.3 1572.9,383 1597.7,370.3 1659.3,328.4 1553.1,386.5 1753.7,212.8 1760.8,196.3 1556.9,387.1 1700.1,262.6 1679.5,292.6 1672.6,300.3 1582.6,382.7 1801.8,159.2 1648.4,341.2 1798.3,174.1 1673.1,277.7 1626.2,332.6 1637.1,301.5 1636.1,345.1 1761.1,199.5 1766.7,183.2 1761.9,197.7 1640.9,333.7 1648.1,319.9 1702.6,281.6 1740.1,228.4 1739,214.5 1769.9,176.7 1752,198.2 1697.6,289.1 1735.9,268.9 1751.8,236.1 1621.6,348.6 1824.3,161.7 1702.8,273.8 1723.4,237.8 1731.2,205.4 1739.3,215.9 1588.6,366.6 1584.3,374.5 1649,319.7 1604.1,331.8 1747.9,241.7 1688.5,259.1 1618.7,326.1 1673,288.2 1622.8,311.2 1748.2,258.1 1672.5,313 1772.4,170.3 1739.6,264.4 1686.7,285.9 1710.4,264.7 1851.5,136.5 1741.9,235.1 1678,317 1671.2,306.9 1772.3,203.4 1722.2,247.2 1736.3,259.3 1612.5,355.4 1682.1,272.6 1554.3,388.1 1702.3,227.6 1556.5,389.7 1726.7,276.2 1608.2,344.3 1583.7,377.7 1613.7,353.3 1676.2,283.6 1692.1,301.4 1637.1,311.4 1720.9,269.5 1717.4,250.8 1627.6,341.7 1668.3,302.2 1798.2,185.1 1693.4,309.9 1763.3,229.6 1733.7,263 1727.1,248 1781.1,201.6 1569.8,386.1 1705.5,299.8 1784.8,224.9 1705.3,254.5 1553.6,391.6 1801.4,169.6 1746.4,247.9 1667.7,291.4 1618.5,360.2 1557.7,379.1 1797.6,209.7 1768,226.3 1602.4,367.9 1612.8,339 1739.6,243.3 1606.4,340.3 1709.7,240.6 1663.9,289.4 1711,218.7 1725.3,277.7 1649.2,317 1649.3,294.5 1620.3,342.6 1811.3,155.5 1681.5,266.1 1579.4,369.8 1693.2,276.7 1726.8,256.5 1783.4,209.2 1655.2,281.7 1756.9,213.9 1730.9,236.8 1796.8,164.5 1657.4,319.8 1624.3,319.4 1549.8,397.2 1705.5,255.5 1715,274.7 1671.1,297.7 1783.6,192.7 1634.8,348.3 1761.8,231.7 1790.5,190.1 1680.9,290.3 1569.2,371 1710.9,266.7 1727,210.6 1806.1,174.3 1778.1,195.4 1683.9,311.9 1731.8,283 1624.9,330.5 1727.7,244 1756.2,240.1 1700.1,313.8 1658.3,307.2 1567,386.2 1681.8,266.5 1654.8,319.4 1787.9,202.8 1622.8,322.6 1556.4,383 1649.1,330.2 1685.6,279.9 1641.3,301.4 1744.5,232.3 1655.3,293.3 1620.1,325.1 1621.8,345.4 1763.3,237.3 1600.3,370.8 1720.6,261.3 1695.2,264.7 1648.4,324.2 1767.3,184.9 1730.9,264.2 1767,225 1652.9,319 1747.6,246.6 1698.5,300.9 1743.8,250.2 1753.1,214.5 1662.4,323 1716.4,291.8 1772.6,235 1593,375.9 1790.8,190.7 1644.7,338.3 1749.3,223.9 1619,337.7 1827,172.6 1706.1,252.8 1573,380.5 1672.1,284.7 1723.6,276 1734.8,218.8 1657.7,290.8 1806.6,194.4 1675.8,297 1619.6,322.6 1761.5,227.6 1799.5,151.9 1742.1,241.3 1632.2,301.9 1651,304.5 1746.9,205.4 1564.7,368.5 1645.5,311.6 1693.8,272.9 1612.5,333.1 1773.9,198.5 1763.4,201.1 1744.9,266.2 1656.8,342.7 1777,187.3 1755.8,225.6 1694.2,250.2 1623.8,352.4 1579,377.2 1710.7,271.3 1579.6,365.9 1710.1,236.1 1556.8,391.9 1753.6,233.8 1779.5,225 1771.1,216.1 1771.6,180.1 1732.8,234.7 1766.3,229.2 1629,330.5 1744.3,222.7 1740.4,268.1 1704.3,287.1 1687.7,295.9 1738.3,235.2 1545.4,403.5 1621.1,325.9 1661.4,319 1784.7,194.6 1698,291.5 1663.2,310.9 1658.3,281 1662.2,282 1797.9,201.1 1572.3,366.5 1672.1,310.6 1775.7,221.6 1779.5,231.4 1568.1,389.1 1655.3,309.2 1569.4,382.9 1653.2,290.7 1662,279.8 1617.7,351.1 1822.6,144.2 1558.4,384.1 1632.1,315.1 1727.3,230 1694.8,275.2 1714.8,244.7 1556.5,392.2 1662.2,316.2 1697.4,255.7 1584.9,366.7 1653.5,299.2 1700.9,270.7 1685,299.1 1702.4,243.3 1612.3,356.6 1708.2,235 1767.2,227 1627.9,337.1 1689.1,293.5 1651.6,325.3 1623.1,336.8 1803.5,201.3 1673.2,284.6 1549.2,390.2 1636.2,306 1605.4,344.9 1615.3,325.5 1679.2,283.2 1668.6,318.9 1722.9,266.4 1744.1,234.6 1642.1,336.2 1621,331.3 1644.9,303.4 1665.2,289.9 1639.5,352 1642.6,301.8 1797.5,168.3 1590.6,374.3 1760.6,226.4 1684.6,260.9 1710.4,234.4 1762.7,225.4 1683.7,268.3 1773.2,191.9 1642.4,329.6 1728.4,238 1575,375.7 1680,275.8 1624.1,352.4 1755.1,214.4 1763.2,241.2 1775.6,226.9 1700.2,288 1673.9,270.3 1684.2,265.2 1727.2,237.7 1772.3,218.1 1652.6,303.5 1821.1,183.2 1689.7,285.9 1714.7,269.4 1560,393 1630,319 1717.4,223.2 1753.4,241.9 1651.1,298 1708.6,287.7 1619.9,339.9 1592.8,372 1722.7,237.8 1708.5,246.5 1717.8,275.7 1596.1,343.1 1674.2,289.4 1717.7,287.3 1789.4,216.9 1620.1,311.9 1767.6,239.6 1758,194.2 1579.3,344.9 1737.3,273.7 1794.5,173.1 1711.3,254.3 1680.5,314.9 1734.7,263.8 1680.9,292.9 1704.1,277.1 1740.4,259.4 1653.2,290.5 1628.4,314.1 1660.3,288.7 1618.9,352.5 1772.8,229.5 1677.5,291.8 1567.5,375.8 1741.9,232.5 1779.7,198.4 1753.4,210.1 1742.2,245.6 1654.7,319.4 1631.2,310 1729.5,232.5 1681.1,271.2 1570.8,369.2 1579.7,378.5 1693.9,263.7 1715.1,253.3 1679.3,261.4 1787.2,214.2 1560.1,389.8 1687.5,308.9 1615.8,353.6 1745.3,262.8 1618.9,338.2 1642,335.9 1710.9,265 1756.3,238.5 1584,362 1663.9,298 1730.8,248.6 1649.5,298.2 1589.2,374.2 1709.1,255.3 1688.4,267.9 1605.6,341.1 1706.1,239 1698.4,274.8 1660.1,316.6 1712.3,245.8 1808.5,162.7 1561.3,375.3 1757.4,185.1 1805.9,180 1788,177.8 1624,333.1 1603.7,350.6 1772.9,204.2 1710.4,276.3 1731.8,274.8 1685.4,273.9 1699.5,253.6 1718.7,234 1707,285.3 1772.5,209.2 1715.4,230 1613,348.4 1826.5,178.5 1611.1,362.1 1767.5,222.3 1601.1,356.6 1670.6,296.9 1573.9,365.3 1748,240.1 1654.1,301.5 1673.3,294 1618.4,350.6 1692.9,284.7 1738.5,242.2 1715.4,272.3 1783.6,167 1574.2,369.3 1703,275.9 1635,338.8 1674.5,273 1696.4,291.8 1634.1,335.2 1755.2,236 1698.6,262 1590.5,371.7 1629.9,314.9 1639.5,333.6 1640.5,320.2 1734.6,230.6 1766.4,213.2 1755.8,208.7 1661.2,317 1647.4,335.1 1693.2,262.7 1805.4,179.4 1658.1,296.7 1797.9,194.6 1682.5,311.1 1784.5,228.7 1818.9,151.8 1608.2,349.9 1665.4,316.9 1656.6,307.2 1732.9,254.6 1735.6,188.3 1686.9,289.3 1559.3,393.6 1595.2,357.8 1712.2,249 1726.4,270.5 1739.9,262.9 1663.7,298.5 1561.5,389.7 1656.5,302.4 1650.7,315.1 1551.5,397.9 1652.7,318.7 1786.9,194.5 1765.1,229.2 1585,377.7 1580.2,376.7 1586.2,359 1723,246.5 1768.7,246.3 1713.1,263.3 1602.9,360.8 1633.9,327.8 1547.1,405 1763.6,195.1 1757.5,250.5 1597.9,354.7 1714.7,260.5 1628.5,330.3 1675.4,274.9 1607.8,345.4 1688.6,312.2 1618.3,329.1 1627.8,331.2 1650.3,320.7 1580.4,385 1750.2,212.5 1828.4,149.9 1726.8,223.2 1604.9,342.2 1673.6,299.4 1695.9,298.6 1616.3,334.3 1769,189.1 1638.6,326.7 1755.8,234.9 1643.2,304.3 1617.3,323.5 1759.8,196.5 1742.6,226.1 1656.3,302.5 1675.5,316.6 1751.9,198.3 1680.3,323.6 1697,267.8 1792,211.9 1661.7,299.6 1546.5,396.5 1678,277.1 1706.1,287.8 1838.2,166.2 1839.2,140.2 1595.1,356.7 1621.3,328.1 1749.9,211.9 1742,230.9 1653,309.1 1727.2,242.1 1696.1,290.1 1659.2,314 1744.5,233.5 1740.9,267.4 1786.8,183.5 1760.7,223.2 1774.5,188 1724.8,232.5 1623.3,330.9 1642.1,308.6 1742.4,223.9 1759.1,226.1 1693.2,283.2 1584.5,374.8 1696.2,258.7 1659.8,312.8 1771,212.1 1774.7,206.3 1712.4,244.1 1709.4,247.4 1802.9,169.1 1616.5,358.5 1664.4,281 1688.5,261.8 1745,196.2 1848,137.5 1733.2,253.5 1770.7,191.1 1704.1,281.4 1728.7,217.3 1826.8,176.8 1713.2,256.4 1643.4,343 1532.3,408.1 1737.1,244.6 1681.2,292.9 1642.7,348 1626.9,296.6 1786.4,193.4 1700.9,251.6 1721.8,277.5 1843.5,151.5 1556.8,393.1 1630.1,334.2 1633.2,315.4 1712.7,285.8 1613.1,354 1731.6,254.8 1570,380 1765.3,231.8 1575.8,368.4 1627.6,320.7 1719.6,278 1628.1,316.3 1765.4,214.4 1682,296.9 1638,328.6 1796.5,161.7 1617.6,339.5 1793,171.7 1657.1,288.3 1650.1,303.7 1535.4,408.5 1789.2,214.1 1720,294.7 1688.1,284.5 1733.3,255.7 1659.2,308 1618,344.2 1672.9,297.7 1615.8,347.7 1682.3,300.4 1707.2,269.5 1624.2,347.5 1708.6,227.6 1647.4,341.5 1634.4,334.9 1817.4,174.4 1811.6,154.9 1709.5,228.8 1682.4,270.7 1635.4,318.5 1715.4,241 1738,238.4 1655.8,319.8 1735.5,217.4 1791,209 1679.4,300.1 1840.3,160.3 1630.4,318 1676.4,266.7 1687.6,256.8 1557,386.2 1711.2,311.1 1754.5,237.8 1747.1,232.1 1706.2,273.2 1712.3,248.5 1591,364.4 1643.2,310 1702.5,297.8 1756.8,187.8 1773.5,208.9 1718.8,248.9 1576.2,377.4 1754.8,206.3 1829.3,134.3 1575.3,388.2 1626.2,324.9 1716.7,246.3 1675.2,278.8 1742.3,225 1800.3,217.4 1743.4,199.8 1679,308.7 1772.1,177.2 1684.5,299.1 1641.9,317.4 1767.1,178 1670.7,302 1799.7,196.5 1683.2,311 1776.9,207.7 1656,321.3 1713.1,233.8 1741.4,241.5 1611.3,353.6 1636,327.2 1683.8,258.8 1688.9,277 1678.9,309.8 1652.6,329.5 1745.9,218.6 1656.6,292.4 1801.5,152.8 1689.6,260.2 1584.1,368.3 1757.6,208 1587.3,353.1 1571.4,376.3 1748.2,232.6 1800,200.6 1683.4,296.2 1691.2,305.5 1691.2,249 1651.5,324.4 1729.8,272.6 1647.2,329.2 1648.4,330.8 1730,249 1847,138 1781.5,206.9 1744.1,264.2 1738,266.6 1584.1,366.5 1737.1,274.4 1646.7,298.7 1589.2,371.6 1670.4,279.1 1661.5,300 1636.6,333.9 1610.2,341.9 1702.3,278.6 1746.6,223.3 1735.5,268.1 1693.7,303 1798.7,149.3 1779.1,192.3 1809.2,172.6 1674.8,318.2 1766.4,223 1616.6,322.1 1751.7,215.1 1567.6,371.7 1606.5,357.1 1661.6,315.1 1687.9,286.5 1831.6,143.2 1629.9,339.9 1651.6,326.5 1754.5,218.4 1768.9,194.3 1619.1,362.2 1553.1,394.2 1640.6,316.7 1607.5,344.7 1660.5,312.5 1618.5,337.8 1611.7,362 1585.5,354.4 1713.7,260.4 1665.7,307.1 1583.2,365.1 1623.2,343.8 1709.7,244.7 1571.9,363.7 1557.1,388.6 1745.4,218.1 1630.1,321.2 1661.8,304.8 1749.1,257.7 1653.4,310.1 1644.3,309.4 1744,255.6 1820,160.4 1780.3,197.1 1817.2,143.1 1707.8,286.4 1592.4,356.9 1702,283.4 1576.8,376.6 1760.2,230.3 1583.6,360.2 1562.9,382.4 1640.2,331.7 1666.1,311 1721.5,227.3 1619.1,343.4 1845.3,160 1554.2,382.8 1834,148.5 1692.3,282.9 1675.1,314.8 1656.2,293.9 1665.8,287.7 1577.1,381.7 1718.3,270.1 1574.3,371.9 1618.4,325 1582.9,360.5 1611.3,326.3 1676.7,313.4 1806.6,197.2 1730.2,223.9 1601.2,367.4 1787.7,196.8 1663.9,312.7 1661.7,317.2 1750.3,185.4 1775.6,212.9 1645.2,323.6 1628.8,353.4 1648.2,334.1 1606,333.7 1668.7,314.6 1652.4,306 1666.3,274 1583.2,363.3 1757.1,196.4 1762.1,214.6 1638.9,309.3 1765.8,204.3 1781.9,210.8 1728.5,205.8 1761.4,206.6 1801.2,159 1658.7,278.3 1568.5,386.4 1725.5,274.1 1671.8,314.5 1683.6,265.6 1724.2,251.9 1810,186.4 1723.6,224 1723.5,254.1 1640.8,348.6 1666.9,320.2 1647.3,300 1747.1,232.2 1793.9,179.3 1597.9,351.5 1731.8,215 1765.5,225.9 1730.6,244.3 1753.5,226 1776.6,205.1 1564.3,375.3 1753.7,222.3 1777.8,170.2 1784.9,188.3 1539.5,401.6 1688,287.4 1718.4,257.7 1553.6,398 1782.8,222.6 1575.7,370.7 1591.5,373.9 1688.5,292.2 1546.9,399.9 1734.9,248.6 1840,169 1689.6,274.5 1703.1,298.8 1673.2,321.2 1774.1,194 1569.6,384.6 1719.8,256.6 1763.2,182.9 1835.3,165.9 1679.4,310.4 1655.5,308.5 1787.8,201.3 1652.6,298.8 1682.2,282.1 1784,200.1 1670.1,300.1 1616.4,356.2 1658.9,286.6 1656.5,332.3 1610.2,367.5 1638.7,327.3 1723,248.2 1812.7,157.6 1534.7,408.3 1670,314.4 1765.3,221.6 1604.3,366.1 1646.4,316.3 1685.2,293.7 1583.5,354.2 1619.5,339.3 1740.8,265.7 1704.9,260.9 1588,365.7 1583.9,376.9 1569.1,379.5 1591.7,359.3 1632.6,318.4 1639.7,307.7 1718,257.6 1612.3,359.7 1623.4,344.5 1613.9,360.6 1699.8,245.6 1729.7,266.7 1570.6,386.6 1630.6,341.8 1808.2,188.3 1744.7,232.4 1702.3,252 1742,204 1572.8,386.4 1559.7,378.7 1663.6,316.1 1686.8,270.2 1800.6,163.8 1572.5,369.9 1750.7,240.1 1705.4,249.6 1731.1,247.5 1653.3,333.6 1767.2,241.1 1767.2,195.3 1664.9,328.6 1712.2,270.8 1636.6,301.2 1571.7,374.7 1659.1,327.3 1553.4,392.2 1638.9,326.2 1788.7,205.1 1632.3,324.8 1749.2,213.1 1651.9,315.5 1769.4,190 1808.2,188 1586.4,371.9 1768.9,187.6 1768.1,185.2 1635.4,320.3 1609.3,358.5 1825.2,167.3 1669.2,298.9 1715.4,255.7 1662.6,284.2 1560.2,390.1 1773.5,179.7 1709.9,262.8 1586.6,375.1 1739.1,198.3 1731.6,253.1 1567.8,374.4 1813.1,174.4 1707.7,269.5 1781.5,199.6 1825.2,152.2 1605.7,337.8 1675.3,306.3 1785.6,178.3 1697.9,256.8 1565.6,373.8 1648.2,317.1 1569,376.2 1737.4,245.1 1616.4,330.5 1742.3,243.7 1792.5,229.6 1696.5,287.2 1708.1,298.4 1667.1,296.7 1609.1,351.9 1665.7,300.6 1761.7,228.4 1771.1,227.9 1743.9,210.2 1591.1,366.3 1754.5,192.8 1832.1,171.8 1811.6,177.2 1774.7,209.7 1753.7,194.4 1775.5,203.3 1603.7,340.2 1683.1,278.8 1647.9,319.4 1630,323.2 1728.2,262.2 1731.1,270.6 1692.8,257.7 1675.4,260.8 1704.4,232.8 1637.7,317.9 1783,207.7 1648.5,278.8 1625.2,332.7 1743.1,228.3 1557.6,392.1 1667.7,314.4 1773.2,183.7 1590.8,355.2 1680.2,311.4 1623.5,326.2 1774.9,185.4 1755.1,241.9 1790,163.4 1719.1,234.2 1591.1,370.1 1620.1,343.4 1654.8,291.2 1758,191.5 1585.5,375 1637.2,338.2 1721.4,237 1751.2,242.9 1617.1,324.1 1687,326.7 1805.7,192.7 1697.1,260.1 1625.2,350.8 1821.6,153.3 1582.2,365.7 1684.2,312.8 1625.7,332.8 1659.3,329.7 1581.5,367.7 1679.6,315.6 1652.3,316.1 1710.7,292.9 1645.5,314.8 1750.9,206.4 1556.9,396.4 1771.2,193.5 1764.9,226.9 1651.7,331.2 1632.3,330.8 1582.8,361.6 1736.7,235.8 1665,278.9 1629,320.1 1739.3,227.7 1609,358.7 1740.1,237.6 1626.6,330.9 1641.5,344.2 1642.9,333.2 1788.3,200.5 1570.8,386.3 1543.1,400.2 1686.6,297.5 1760.1,195.4 1739.8,230.7 1657.3,319.5 1652.3,330 1547.6,393.5 1701.4,292.1 1775.8,192.3 1594.1,349.1 1744.4,224.1 1616.5,341.4 1750.6,219.9 1756.1,207.5 1746.4,250.6 1707.6,296.7 1624.7,357.5 1653.8,331.5 1808.2,186.6 1689.3,267.6 1776.2,212 1623.6,346.5 1727.4,230.7 1602.5,356.5 1767,205.1 1783.9,202.6 1832.9,130.7 1686.9,286.3 1614.9,346.1 1629.3,349.8 1796.1,197.5 1651.7,297.6 1598.1,359.3 1677.5,310.2 1555.7,396.7 1576.5,380.8 1662.1,290 1565.7,388 1727.4,268.3 1624.5,341.5 1760.9,178.6 1708.2,231.4 1769.3,224.4 1763.9,221.4 1854.3,135.6 1695.7,277.3 1762.6,200 1652,325.8 1637.9,311.2 1587.1,363.9 1793.1,186.2 1594.3,356.4 1672.1,279.7 1570.6,380.1 1825,154.4 1715.1,277.9 1731.9,235.2 1741.5,225.9 1572.8,380.2 1757.3,220.7 1613.1,356.9 1650.3,298.7 1622.6,346.4 1611.9,341.8 1795.3,167.2 1682.5,276.3 1656.3,297.8 1725.6,273.1 1750.9,199.3 1646.3,318.5 1688.8,269.4 1720.3,267.3 1671,309.5 1725.1,274.7 1775.4,227 1628.2,328.1 1673.4,305.1 1720.8,238.6 1717.7,239.7 1628.4,333.9 1725.3,233.9 1679.8,289.9 1734.8,234.6 1782,210.7 1680.5,266.4 1800.5,166.7 1699,245.7 1832,153.4 1665.5,286.2 1611.2,345.6 1760.4,221.8 1764.3,228.5 1646.6,317.1 1646.7,335.3 1732,238 1576.7,367.5 1750,210.2 1574.3,378.5 1801.2,146.1 1680.4,291.4 1666.1,292.9 1587.5,379.8 1702.6,242.6 1786.6,236.7 1626.2,316.2 1761.1,233.5 1658,332.6 1708.2,249.8 1674.3,296.2 1586.9,356.9 1734.6,229.8 1723,262.9 1616.1,354.7 1816.1,149.6 1710,273.9 1657.5,314.8 1701.1,243.8 1738.1,219.4 1667.9,289.3 1782.7,208.3 1740.3,233.6 1581.6,357.2 1693.9,260 1642.1,323 1657.1,304.6 1664.1,304.8 1642.9,296.8 1799.8,168.5 1728,218.5 1656.5,297.6 1813.5,161.4 1572.5,374.1 1625.8,337.3 1596,363.8 1702.9,254.9 1718.3,271.1 1670.1,276.9 1767.2,202.8 1672.2,274.8 1802.6,200.1 1622.6,341.9 1734.7,272.1 1617.7,354.1 1707.4,270.5 1793.2,175.1 1685.3,292.7 1650,332.9 1814.3,181.1 1783.9,226.4 1629.5,334 1687.9,316.5 1739.8,216.8 1796.7,178.6 1707.3,300.8 1687.7,258.9 1774,214 1536.2,408.8 1645.1,326.1 1845.3,147.2 1701.7,293.5 1649.5,307.3 1710.7,288.2 1632.6,330 1723.1,248.5 1593.7,363.9 1667.7,292.6 1628.9,320 1664.4,283 1769.7,236.4 1625.2,335.9 1698.9,253.8 1667.3,311.8 1558.6,389.7 1614.2,342.4 1704.2,222.3 1558.8,378.7 1714.6,254.5 1801.1,175 1603.1,365.8 1765,202.8 1713.4,295.8 1686.6,285.8 1679.6,284.2 1763.8,180.4 1787.6,206.5 1793,166.4 1697.7,294.3 1578.5,377 1723.4,270.9 1766,206.8 1786.8,202.7 1610.9,354.4 1687.9,263.9 1694.5,245.2 1688.6,284.2 1672.9,307.7 1559.8,385.8 1729.2,227.7 1645.5,318 1692,291.2 1686.9,282.3 1686.6,286.5 1748.1,221.8 1641.7,317.5 1569,376.4 1655.6,332.9 1781.4,220.5 1658.7,309.6 1786.9,181.5 1603.7,336.7 1731.2,264.1 1818,157 1779.5,206.4 1716.5,252.4 1709.4,263.2 1703.8,251 1696.3,257.6 1598.1,351.8 1772.4,221.6 1650.6,307.3 1672.3,317.3 1664.9,310.1 1697.7,269.5 1670.5,300.1 1697.5,302.5 1737.9,249.1 1778.7,181.6 1624.4,325.8 1661,294.9 1688.8,266.8 1674.2,297 1779.8,170.2 1741.8,223.8 1674.7,290.3 1752.7,209.5 1676.5,311.8 1627.8,345 1636,337.8 1773.9,217.9 1728.1,231.9 1732.6,246.2 1641.1,334.7 1696.2,298.4 1769.8,188.8 1622.2,354.6 1539.3,405.3 1848.3,138.3 1767.9,197 1742.3,229.2 1735,220.5 1771.9,180 1758.3,244.7 1615,346.8 1686.5,296 1638.9,320.9 1601.9,370.8 1795.4,178.2 1678.4,319.3 1684.1,278.9 1571.7,376.5 1755.2,194.5 1799.3,159.8 1644.3,305.9 1839.6,150.9 1596.1,344.2 1619.3,328.6 1588.4,370.3 1630.5,309.9 1777.7,168.8 1728.9,237.8 1753.9,207.7 1753.5,196.7 1622.4,332.9 1665.2,286.4 1707.5,268 1622.3,366.7 1560.7,387.5 1737.1,234.5 1586.5,368.5 1599,362.8 1769.4,212.9 1807.6,183.6 1707.3,235.3 1765,192.5 1757.7,214.1 1806.8,152.4 1676.2,288.2 1710.2,263.6 1769.7,188.3 1605.1,360.3 1689.7,324 1772.8,183.4 1736.4,244.3 1663.3,285 1806,171.2 1554.9,397 1572.3,378.8 1659.9,300.9 1701.2,260.3 1572.6,387.5 1784.4,222.1 1582.4,355.8 1627.5,339.7 1771.3,241.8 1695,273.1 1667.2,307.8 1605.1,356.3 1780.3,175.8 1630.1,322.5 1646.4,326.5 1796,182.1 1707.4,266.8 1804.7,187.5 1723,285.5 1740.3,239.7 1735.8,225.9 1741.6,250.4 1550.1,383.3 1738.3,264.9 1798.4,174.7 1666.9,288.6 1661.2,312.7 1578,380.8 1666.6,320.1 1759.8,214.3 1762.4,184.9 1611.1,349.5 1660.5,328.5 1564,389 1540.2,408 1705.6,285.9 1645.8,307.3 1730.1,257.2 1726.4,271.6 1660.9,330.2 1733.9,235.7 1788.1,170.7 1638.3,312 1578.3,367.7 1601.9,356.5 1722,257.9 1716.5,254.7 1751.5,255.3 1626.8,319.5 1654.4,310.7 1668.9,313.3 1711.6,263.7 1764.4,233.8 1787.1,185.3 1803.7,178.2 1706.7,284.8 1661.6,331.6 1719.6,254.8 1683.5,293.2 1761.1,211.7 1721.6,258.9 1815.5,169.4 1727.2,230 1645.7,314.1 1751.7,239.5 1729.2,273.4 1744.6,206.8 1534.7,399.7 1714.6,280.2 1612.7,340.7 1658,287.5 1677.8,281.7 1634.8,340.9 1727.2,254.2 1751.7,236 1739.7,255.3 1700.7,288.7 1706.2,259.9 1581.9,357.7 1644.9,324.6 1552.3,399.7 1655.3,295 1750.9,277.9 1726.3,216.7 1656.4,314.8 1755.3,236.5 1735.1,262.4 1795.6,172.8 1794.9,176.5 1655,280.4 1726.1,273.2 1647.6,320.1 1594.4,352.3 1809.1,171.9 1806.4,175.2 1665,315.8 1775.7,182.5 1743.6,233.4 1591.8,346.8 1763.1,187.2 1553.1,395.3 1539.9,402.5 1808.7,179.5 1722.1,241.3 1577.2,383.2 1819.9,147 1595.6,369.8 1754.5,198.9 1733.6,264.3 1689.3,244.1 1655.8,317.6 1769,200.4 1709.8,254.9 1601.6,353.3 1726.8,258.1 1750.5,245.2 1664.2,290.6 1614.9,360.8 1803.8,205.4 1691.8,288.3 1747.9,229.5 1765,231.8 1630.3,328.1 1654.8,298 1691.4,250 1744.4,250.2 1679.2,284.3 1762.3,237.2 1665.7,298.3 1743.2,213.5 1680.4,318.3 1624.7,325.7 1608.8,347.8 1582.5,361.1 1726.5,254.8 1741.9,250.6 1773.7,201 1641.8,325.5 1682.2,311.1 1644.6,315.7 1629.7,346.1 1836.3,152.6 1763.5,199.8 1800.8,192.7 1593.8,369.1 1559.6,383.6 1596.5,366.5 1581.9,376.7 1710.3,266.6 1693.3,287 1787.1,223.7 1803.1,173.6 1707.5,282.2 1703.5,262.2 1608.4,342.9 1769.3,232.6 1642.5,311.4 1644.5,315.8 1677.6,287.1 1667.2,274.2 1698.3,310.1 1680.8,297 1766.3,227.6 1713.9,283 1691.9,290.9 1636.1,324.7 1626.8,340.9 1646.2,331.2 1663.9,268.2 1714.9,243.3 1691.1,310.3 1675.1,319.9 1790.2,172.6 1642,315.2 1653.4,327.7 1538.4,403.2 1742.1,237.3 1677.9,307.6 1643.5,329.1 1558.6,396.9 1778.1,217.8 1595.6,376.9 1735.4,238.2 1653.6,316.9 1645.5,328.5 1595,360 1741.4,239.5 1827.2,146.6 1614.9,369.2 1759.8,233 1831.8,145.7 1756.7,224.9 1779.5,218.6 1638.2,309.1 1585.5,353 1594.4,363.6 1764,221.4 1753,240.2 1737.4,229.6 1591.3,349.3 1658.9,316.5 1705.7,267.3 1694.2,262.3 1609.4,346.2 1548.2,390.1 1710,274.9 1694.9,295.6 1650.7,312 1666.4,304.6 1791.9,213.9 1631,323.8 1650.3,302.4 1719.8,270.5 1628.3,342.6 1582.9,355.5 1716.7,257 1678.5,297.2 1645,317.1 1736.1,259 1660.6,318.5 1747.8,229.8 1779.5,185.8 1701.4,304.1 1691.4,249.1 1717.4,221.8 1669.9,288.2 1699.5,270.4 1747.7,222.5 1697.6,283.6 1725.5,260.5 1596.7,358.4 1624.1,318.6 1746,201.3 1686.4,286.2 1538.7,407.9 1766.4,220.1 1584.9,372.8 1627.6,336.1 1778.1,188.1 1689.7,278.6 1724.3,217.1 1831.2,153.9 1545.5,389.9 1799.4,212.5 1705.1,278.9 1692.8,283.6 1610.8,333.2 1710.6,289.1 1782.8,210.6 1723.3,243.1 1612.9,354.1 1759.5,207 1818.6,155.8 1680.3,278.6 1829.5,144.7 1753.6,183.6 1722.8,262.1 1694,256.3 1726.2,275.1 1696.6,300.7 1619,366.4 1587.5,369 1675.5,292 1599.1,363.8 1652.6,295.4 1777.4,214.2 1762.9,219 1623,349.1 1576.9,383.1 1791.4,202.8 1821.6,160.2 1623.2,330.4 1596.3,345.3 1690.8,243.1 1758.6,207.5 1696.8,262.4 1727.5,219.9 1790.5,176.4 1691.5,290.5 1744.3,211.9 1679.5,282.8 1835.6,176.8 1824.9,166.2 1611.5,348.8 1675.1,281.1 1843.6,138.8 1627.7,327.7 1741.4,260 1607.5,366 1655.2,314 1753.5,237.7 1663.2,300.2 1782.8,174.9 1748.6,227.7 1651.4,330.6 1756,232.5 1655.7,324 1707.8,251.3 1661.6,304.6 1656.3,313.4 1798.3,192.5 1620.5,343.1 1663.8,332.3 1751.6,201.6 1753.9,207.2 1729.4,259.4 1591.2,370 1595.4,368.7 1654.2,327 1610.6,342.6 1620.9,340.1 1720.3,252.9 1676,336 1770,212.6 1820.9,182.3 1610.6,352.2 1743,222.1 1706.1,283.1 1686,276 1641.2,319.9 1552,396.1 1818.4,162.6 1660.6,289.7 1703.2,278.5 1725.7,260.1 1679.4,287 1678.6,312.5 1650.9,305.1 1571.6,384.2 1713,245 1834.5,174.2 1638.8,329.4 1623.5,325.1 1584.2,357.4 1774.6,194.2 1785.1,215.1 1717.7,257.1 1732,279.8 1710.4,272.3 1739.2,259.2 1634.4,344.5 1826.2,155.6 1723.8,254.2 1786.8,179.4 1805.2,178 1597,373.4 1833.2,170 1792.5,188.9 1622.6,325.4 1772.5,231.5 1610.7,345.7 1567.6,381.2 1729.8,216.5 1635.6,343.9 1729.2,243.5 1697.6,275.9 1663.2,324.9 1572,374.1 1757.7,207.4 1719.9,262.8 1575.5,363.8 1751.7,233.9 1646.9,323 1834.2,156 1723.9,275.7 1743.3,209.9 1815.7,176.1 1803.5,165 1721.9,238.9 1760.2,224.4 1637.1,332 1813.1,174.9 1758.3,191.7 1753.5,249.9 1692.7,271.5 1655.2,315.9 1601.4,358.3 1743.6,207 1736.8,241.8 1723.9,225.3 1775.5,229.9 1607.2,360.1 1692,301.1 1672.1,308.9 1677.6,301.9 1655.2,334.7 1745.5,244 1733.7,232.7 1804.9,189 1606.4,364.9 1671.4,278 1664.8,296.2 1608.4,328.9 1684.9,289.5 1612.7,355.7 1732.6,244.9 1721.8,251.4 1767.9,190 1639.3,327.8 1599.5,352.6 1676,285.6 1541.1,399.1 1536.9,407.3 1805.7,170.2 1624.5,342.3 1666.3,318.6 1536.3,406.6 1798.5,151.6 1676,304.1 1720.3,241 1793.3,196.2 1565.3,372.2 1713.9,258.3 1714.7,219 1682.8,273.9 1661,327.2 1713.3,253.9 1751.4,249.3 1626.2,344.2 1754.6,200.8 1618.3,344.6 1718.2,271 1631.7,352.6 1661.6,294.3 1757.2,224.6 1542.2,400.8 1693.1,271.6 1699.4,284.4 1736.8,244.8 1793.6,203.1 1668.4,300.9 1723.8,223 1754.5,256.3 1779.9,191.8 1703.1,276.5 1660.7,304.2 1608.2,355.4 1725.8,301.3 1605.7,339.1 1635.3,327.3 1731.8,264.5 1809.8,180.8 1726.1,270.2 1654.3,314.1 1624.9,342.1 1623,347.4 1555,391.5 1780.9,179 1678.6,277 1768.4,168.6 1606.4,346.2 1673.6,297.3 1671.5,294.2 1581.6,378.3 1765.2,203.7 1706.2,270.4 1685.9,259.9 1587.1,373 1646.1,298.3 1698.9,281.5 1581.5,376.1 1764.4,219.4 1643.9,336 1729.5,221 1709.9,259.6 1598.1,359.3 1642.5,324.8 1579.4,376.8 1714.6,236.2 1776.4,169.4 1741.7,217.9 1604,353.6 1725.2,268.3 1771.9,243.5 1718.7,255.5 1784.8,174.1 1620,346.7 1662.1,293.6 1641.3,333 1558.5,394.7 1604.2,337.6 1583.4,365.5 1753.4,209.3 1762.2,189.3 1705.8,262.3 1734.8,250.6 1676.4,270.1 1608.9,352.2 1716.4,244 1738.2,248.1 1796,191.2 1702.6,261 1562.9,372.1 1722.7,246 1697.2,294 1597.9,368.5 1638.4,330 1723.6,251.1 1630,333.9 1645,306.6 1707.2,281.1 1590.5,358.2 1737.8,235.2 1702.5,282.5 1683,282.6 1721.4,266.9 1609.3,358.6 1590,376 1730.3,242.9 1800.6,139.7 1715,227.4 1751.4,262.9 1764.1,221.9 1618.4,357.3 1713.4,251.4 1712,242.6 1655.2,332.6 1659.9,324 1572.5,371.9 1684.8,280.6 1575.9,385.2 1842.9,134.2 1614.3,344 1795.3,189.8 1743.1,247.4 1701,252.3 1639.5,326.5 1742.7,218.9 1575,371.1 1773.8,193.2 1591.7,348.1 1763.9,247.3 1656.5,317.7 1571.4,389.9 1723.3,233.8 1653,340.4 1768.5,194.5 1659,304.4 1646.8,319.8 1644.1,318.1 1740.7,238.2 1558.8,375.3 1643.3,329.2 1595.4,363.1 1644.1,323 1580.3,373.1 1588.9,368.1 1578.2,361.8 1571.7,378.8 1764.8,182.6 1701.8,247.7 1719.6,223 1769,230.1 1769.9,186.9 1731.4,218.6 1736.5,270.4 1765.2,217 1662.8,304.7 1801.6,157.4 1804.6,193.5 1784.4,191.3 1547.2,399.1 1722.6,274.3 1769.2,198.4 1609.3,339.5 1630,325.2 1650.7,326 1585,354.9 1662.2,282 1577.1,368 1679.5,307.7 1613,327.5 1657.6,299.5 1827,142.2 1590.8,372.7 1779.1,167.6 1755.1,237.5 1771.8,176.4 1644.7,316.7 1669.1,290 1755.1,218.6 1817.1,146.3 1703.4,286.7 1778.9,222.2 1719.7,251.8 1661.5,279.4 1766.6,239.2 1642.2,318.9 1727.4,275.1 1775.1,229.8 1548.9,395.5 1619.2,333.6 1613.5,338.6 1692.6,272.6 1731.6,271.7 1640.7,317.8 1813.8,184.6 1711.3,249.2 1604,362.4 1728.7,271.1 1603.5,356.7 1704.7,295 1729.1,276.4 1766.2,213.4 1769.6,192 1756.9,192.4 1728.6,276.3 1790.1,180.3 1558.2,395.4 1705.2,265.6 1714.4,286.9 1615.1,350.5 1565,385.4 1597.8,358.4 1605.1,346.7 1735.6,236.5 1715.4,283.1 1664.2,284 1739.5,224.2 1621.2,351.6 1754.8,218.7 1611.2,359.8 1631.1,331.2 1697.1,294.5 1762.1,202.6 1790,197.2 1746.4,201.8 1645.6,313.7 1743.9,220.3 1672.1,289.3 1622.8,339.2 1692.8,274.2 1839.7,152.1 1596.1,349.8 1691.4,279.1 1660.1,333 1725.7,221.2 1636.2,335.5 1599.3,352.9 1787.8,204.4 1618,338.6 1748.9,256.5 1681.3,286.8 1699.6,293.4 1713.1,286.5 1763.1,218.7 1621.2,326.2 1656.5,335.7 1806.2,172.3 1565.4,385.3 1778.7,200.4 1776,206.4 1770,175.3 1783.1,205 1709.9,293.2 1781.7,197.5 1608,345.8 1687.2,278.6 1633.5,328.6 1669.3,304.7 1703.1,251 1640.1,342.3 1696.6,287.9 1739.3,211.9 1782.6,201.8 1696.7,282.8 1637.2,332.4 1562.6,380.9 1798.8,158.4 1718.3,223.7 1750.5,204.3 1624.7,329.9 1719.4,276.8 1734.5,237.8 1725.3,248.5 1663.3,299.4 1615,328 1735.8,263.4 1545.4,398.8 1700.8,293.8 1627.8,339 1630.9,336 1698.1,254 1670.1,291.8 1615.5,334.2 1672.7,319.4 1697.6,286 1586.7,370.4 1828.2,145.6 1699,304.5 1648.3,312.5 1791.6,175.4 1765.1,235.7 1660.7,301.9 1687.5,305.9 1850.1,144 1771.5,206.6 1708.8,290.9 1746,189.5 1719.3,235.5 1776.6,188.9 1697.3,262 1674,279.5 1744.1,246.9 1660.9,300 1674,336.3 1773.6,189.2 1693.1,270.7 1801.2,153.4 1688.4,261.7 1582.4,368.5 1741.3,228.5 1846.1,143.4 1720,223.2 1757.2,236.5 1770,196.5 1726.9,270.3 1648.1,314.2 1646.1,306.4 1740,257.2 1611.6,342 1832.4,144.5 1728.2,226.8 1817,144.6 1654.7,302.9 1676.3,316.3 1735.1,267.7 1689.4,256.3 1576.3,378 1798.7,158.2 1631.6,335.8 1664.6,285.6 1707.8,294.7 1571.3,375 1724.3,248.2 1742.6,241.9 1730.5,269.5 1693.5,262.9 1646.6,335.6 1615.6,330.9 1599.7,370.9 1792.8,190.2 1768.3,242.6 1599.4,338.4 1578.8,386.7 1661.1,290.1 1660.1,310.7 1732.9,228.3 1703,307.6 1776.5,226.2 1671.8,289.2 1565.9,381.7 1622.9,345.3 1749.2,258.6 1636.3,331.4 1571.2,378.7 1579.8,361.9 1659,318.9 1722.5,239.2 1757.8,190.1 1738.4,250.1 1650.4,325.9 1670.6,314.6 1778.1,177.3 1666.8,291.3 1787.5,194.3 1715.8,237.3 1717.9,253 1751.4,224.6 1756.4,201.3 1725.5,261.4 1759.4,223.8 1694.6,278.7 1754.1,249 1681,303.1 1824.1,170.2 1765.2,183.1 1624.2,326.2 1699.9,284.2 1781.2,208.2 1717.7,253 1661,315 1730.5,237.9 1688.7,311.6 1804.2,172.8 1780.2,164.1 1599.2,350.8 1638.3,327.7 1758,248.5 1714.2,243.9 1707.8,253 1627.2,352 1679.2,294.6 1566.2,372.7 1705.9,276.1 1687.9,287.5 1702.3,303.6 1644.5,359.7 1607.9,357.7 1705.7,275.4 1725.7,262.7 1747.6,170 1691.4,300.2 1717.5,231.8 1699.7,291.8 1726.9,226.4 1614.1,340.1 1778.7,225.7 1745.5,247.5 1778.8,182.3 1717.4,284.3 1826.3,148.7 1546.2,400 1567.4,382.8 1776,216 1730,203.9 1691.8,247.6 1679.9,311.6 1702,271.2 1840.8,170.6 1778.9,196 1609.7,363.4 1571.2,375.3 1721.3,265.3 1821.2,159.1 1747.8,234.1 1612.9,364 1793.3,186.5 1611.9,362 1808.9,154.3 1770.8,223.9 1723.2,266.8 1760.2,236.2 1641.9,314.3 1588.6,363.5 1782.4,182.6 1574,383 1671.4,277.5 1704,284.4 1656.7,313.3 1742.9,213.4 1733.3,247.2 1688,281.1 1810.1,191 1739.3,243.1 1779.8,174.6 1564.7,386.7 1640.5,339.6 1740.7,225 1773.6,213.1 1760.3,229.6 1565.2,385.4 1647,331 1766.5,209.9 1790.8,184.4 1693.6,273 1571.5,372.5 1639.1,343.4 1592.1,362.1 1638.1,311.4 1758.9,231 1594.6,372 1800.2,161.2 1594.1,350.7 1767.8,177.6 1650.3,322.5 1752.8,237 1730.7,269.7 1723.3,262.1 1800.5,170.3 1667.9,309.3 1695.3,283.2 1653.9,317.6 1769.5,180.7 1690.9,282.4 1589.1,345.6 1620.3,335.8 1741.6,260 1685.8,263 1760.3,244.8 1648.5,330.7 1713.5,250.9 1736.3,236.6 1730.6,244.6 1702.4,254.8 1658.2,296.8 1712.7,257.9 1798,161.7 1665.8,304.2 1664.2,310.5 1615.8,330.5 1673.4,293.9 1746.4,257.9 1738.8,215.8 1799.7,183.1 1754.1,218.3 1727.8,227.9 1708.4,263.7 1651.3,315.8 1616,355.2 1633.3,338.1 1592.1,352.3 1628.7,342.9 1739.1,245.7 1608.9,360.1 1797.6,212.6 1686.9,282.2 1631.4,337.7 1728,286.6 1783.1,169.3 1561.3,379.8 1804.6,166.6 1821,149.9 1596.1,353 1751.2,207.9 1641.3,342.2 1756.3,205.4 1732.3,217.6 1658.5,292.1 1762.6,211.7 1788.9,200.1 1762.7,180.3 1563.5,391.2 1627.5,328.3 1730.1,256.1 1725.3,217.6 1750.4,226.5 1702.4,293.8 1551.7,394 1772.9,190.6 1688.8,254 1685.9,293.4 1719.1,262.5 1641.3,334.4 1581.1,372.8 1705.1,259.5 1593.2,353.6 1605.7,353.9 1650.4,320 1736.8,232 1754.5,240 1826.9,156.2 1792.5,209.7 1790.6,169.8 1592.6,357.9 1689.5,260.8 1740,220 1704,240.8 1851.9,159.9 1658.4,296.2 1760.9,230.4 1723.2,230.2 1684.5,297.5 1721.1,279.2 1789.4,175.2 1687.9,276 1550.2,395.6 1771.4,209.3 1687.5,265.6 1626.7,340.5 1644.2,326.2 1632.6,342.5 1604.7,351.6 1540.9,404.3 1614.3,354.7 1771.8,228.4 1769.3,212.9 1576.8,368.8 1662.5,325.6 1600.9,348.9 1682.8,294.4 1659.5,299 1682.7,311 1583.9,378.6 1584,369.1 1714.8,239.4 1589.7,369.4 1737.9,242.1 1777.2,235.6 1614.5,322.8 1604.9,354.6 1729.7,248.1 1685.1,287.6 1761.6,235.4 1746.5,235.5 1618.3,355.9 1753.2,213 1752.8,191.3 1817.9,164.4 1745.7,245 1556,394.9 1677.2,315.1 1751.3,226.4 1705,299 1678,302.3 1676,303.7 1767.1,207.5 1691.1,260 1679.1,283 1543.8,402.9 1615.4,354 1622.2,322.1 1704.6,276.7 1659.3,326.3 1725.3,240.7 1690.8,290.1 1700.6,270 1831.4,168.2 1719.6,228.5 1677.4,303.7 1630.8,352.7 1559.2,387.2 1644.9,321.1 1710.6,301.3 1812.7,143.1 1654.3,303.4 1771.1,182.5 1747.2,235.9 1683.2,288.2 1687.8,301 1655.5,297 1679.8,281.9 1644.5,335.4 1647.4,294.4 1686.7,295 1653.1,347.5 1797.9,214.8 1599.2,364.1 1768.9,245.8 1562.6,389.7 1642.2,340.2 1657.2,307.7 1689.3,308.4 1782.1,207.2 1591,353.7 1708.4,277.5 1626.8,338.8 1586.9,370.8 1765.1,215.5 1700.3,284.8 1577.3,365.1 1674.7,278.1 1587.1,358.7 1606.9,366.3 1666.4,304.7 1642.8,313.2 1669.7,282.4 1671.6,311.4 1752.8,231.8 1717.5,268.1 1769,207.3 1795.2,201.5 1791.7,160.2 1824.1,153.4 1690.6,263.2 1678.7,317.6 1624.6,354.1 1654.9,315.5 1719.2,285.5 1771,184.2 1642.3,322.1 1655.8,317.3 1748.6,233.6 1698.1,289.4 1716.4,270.4 1607.2,348.4 1639.6,319.1 1652,310 1576.4,375.8 1656.7,316.5 1674.5,333.9 1604.5,350.6 1649.8,323.3 1705.8,279.9 1687.7,257.6 1610.8,349.6 1753.7,222.8 1725.3,275.6 1705.7,285 1645.9,308.7 1750.6,227.5 1742.4,206.3 1609.5,352.2 1540.5,399.6 1607.2,355.4 1703.8,283.4 1642.8,336 1620.4,332.9 1759,185.1 1800.7,201 1703.2,274.8 1580.1,379.3 1623.1,341.1 1551.4,384.3 1621.6,345.5 1679,284.1 1662.6,314.6 1613.2,334.8 1603,351.6 1700.1,271.1 1706.2,239.4 1701.4,297 1661.8,309.2 1744.6,255.7 1690.7,261.8 1593.5,366.7 1582.1,377.6 1758.8,191.3 1793.6,209.6 1661.6,279 1635.6,341.1 1759.5,176.7 1565.7,388 1788.8,219.9 1778.2,234.1 1699.7,239.9 1774,221.5 1843,139.3 1710.8,250.5 1609.3,341.9 1795.8,194.6 1806.7,161.8 1801.9,192.6 1597.7,363.8 1639.7,315.4 1581.7,364.3 1604.8,348.7 1740.1,253.2 1779.1,199.5 1611.4,363.3 1693.5,244.8 1673.1,325.8 1707.9,237.1 1743.8,208.1 1802.3,164.4 1759.3,207 1642.4,297.8 1673.4,277.4 1762.9,252 1751.9,200.2 1590.1,367 1594.5,360.2 1722.6,252.3 1801.2,164.8 1834.7,177.8 1719.2,260.2 1631.3,340 1574.4,382.6 1645.7,321 1630.9,323.6 1788,181.4 1755.7,236.2 1654.3,320.9 1799.3,172 1619.6,329.7 1699.5,255.1 1532.4,411.1 1675.9,292.8 1768.6,174.8 1726.6,258.7 1775.9,193.8 1689.3,251.5 1603.1,341.9 1581.8,375.1 1552.8,396.5 1607.1,347.7 1688.4,277.2 1750.5,225.4 1620.9,332.6 1766,163.6 1769.3,207.3 1842,143.6 1607.1,359 1824,169.4 1753.1,217.6 1610.1,358.3 1723.1,274.2 1604,349.2 1572.5,379.1 1703.1,264.5 1677.1,310.3 1643.3,323.7 1670.5,302.1 1829.1,149.6 1781.4,224.1 1758.4,255.5 1663.4,314.8 1682.1,295.7 1769.8,235.4 1559,379.4 1760.4,236.6 1602,358.8 1740,245.4 1652.1,332.8 1720.2,229 1723.1,278.7 1787.5,216.4 1641.8,335.3 1648.7,333.3 1753.3,238.5 1554.2,398.3 1657.9,312.1 1685,294.8 1672.1,298.2 1562.1,392.3 1729.7,256 1749.7,212.7 1551.8,397.4 1617.5,341 1624.1,321.4 1623.7,322.5 1749.5,216.6 1617.1,351.4 1535.1,406.3 1768.4,218.6 1588,363 1599,343.5 1827.1,151.8 1569.8,382.4 1734.2,237.5 1659.4,292.8 1691.7,290.7 1667.4,328.5 1739.9,238.1 1805.4,171.5 1625.2,328.7 1597.1,376.9 1724.1,233.2 1654.1,295.2 1691,294.9 1718.4,232.8 1836.7,144.1 1685.3,266.8 1658.4,324.1 1745.4,226.3 1612.9,355.6 1682,321.4 1719.4,269.7 1577.7,380.2 1716.2,271.4 1631.4,310.5 1671.6,327.3 1622.8,325.6 1762,234.5 1730.2,232.5 1614.5,340.9 1669.9,284.6 1742.5,245.4 1780.9,179.1 1591.2,363.7 1584.7,368.7 1661.4,321.3 1731,261.4 1822,154.9 1681.6,287.5 1567.9,383.3 1631.7,326 1631.4,328.4 1613.9,326.8 1617.9,357.1 1564.9,279.4 1557.5,296.5 1593.2,288.3 1602.8,294.3 1714.3,175.3 1667.5,219.9 1801.3,266.8 1700.9,338.8 1703.2,320.3 1541.2,372.3 1548.6,366.3 1559.7,364.9 1533.7,387.1 1749.2,177.6 1764.1,160.5 1823.6,216.2 1812.4,212.5 1786.4,238.5 1537.2,387.5 1531.7,404.7 1537.9,410.8 1576.9,399.9 1578.3,392.3 1854.9,142.7 1855.9,151 1851.5,164.7 1831.6,135.2"/>
<path d="M1532.2 409.3 L1537.7 405.2 L1543.2 401.0 L1548.6 396.8 L1554.1 392.6 L1559.6 388.3 L1565.1 384.0 L1570.5 379.8 L1576.0 375.5 L1581.5 371.1 L1587.0 366.8 L1592.4 362.4 L1597.9 358.0 L1603.4 353.6 L1608.9 349.2 L1614.3 344.7 L1619.8 340.2 L1625.3 335.7 L1630.8 331.2 L1636.2 326.6 L1641.7 322.0 L1647.2 317.4 L1652.7 312.8 L1658.1 308.2 L1663.6 303.5 L1669.1 298.8 L1674.6 294.0 L1680.0 289.3 L1685.5 284.5 L1691.0 279.7 L1696.4 274.8 L1701.9 270.0 L1707.4 265.1 L1712.9 260.1 L1718.3 255.2 L1723.8 250.2 L1729.3 245.2 L1734.8 240.1 L1740.2 235.1 L1745.7 230.0 L1751.2 224.9 L1756.7 219.8 L1762.1 214.7 L1767.6 209.6 L1773.1 204.6 L1778.6 199.5 L1784.0 194.5 L1789.5 189.5 L1795.0 184.6 L1800.5 179.7 L1805.9 174.8 L1811.4 170.0 L1816.9 165.3 L1822.4 160.6 L1827.8 156.0 L1833.3 151.4 L1838.8 146.9 L1844.3 142.4 L1849.7 138.0 L1855.2 133.6" fill="none" stroke="#000" stroke-width="3.8" stroke-linejoin="round" stroke-linecap="butt"/>
<path d="M1504.1 456.1L1937.5 22.9" fill="none" stroke="#7c7c7c" stroke-width="3" stroke-dasharray="4.3 3.55" stroke-dashoffset="1.7"/>
<path d="M1496.1 456.10H1504.1M1937.5 456.10H1945.5M1499.8 434.44H1504.1M1937.5 434.44H1941.8M1496.1 412.79H1504.1M1937.5 412.79H1945.5M1499.8 391.13H1504.1M1937.5 391.13H1941.8M1496.1 369.47H1504.1M1937.5 369.47H1945.5M1499.8 347.81H1504.1M1937.5 347.81H1941.8M1496.1 326.15H1504.1M1937.5 326.15H1945.5M1499.8 304.50H1504.1M1937.5 304.50H1941.8M1496.1 282.84H1504.1M1937.5 282.84H1945.5M1499.8 261.18H1504.1M1937.5 261.18H1941.8M1496.1 239.53H1504.1M1937.5 239.53H1945.5M1499.8 217.87H1504.1M1937.5 217.87H1941.8M1496.1 196.21H1504.1M1937.5 196.21H1945.5M1499.8 174.55H1504.1M1937.5 174.55H1941.8M1496.1 152.90H1504.1M1937.5 152.90H1945.5M1499.8 131.24H1504.1M1937.5 131.24H1941.8M1496.1 109.58H1504.1M1937.5 109.58H1945.5M1499.8 87.92H1504.1M1937.5 87.92H1941.8M1496.1 66.26H1504.1M1937.5 66.26H1945.5M1499.8 44.61H1504.1M1937.5 44.61H1941.8M1496.1 22.95H1504.1M1937.5 22.95H1945.5M1504.10 14.9V22.9M1504.10 456.1V464.1M1525.77 18.6V22.9M1525.77 456.1V460.4M1547.43 14.9V22.9M1547.43 456.1V464.1M1569.10 18.6V22.9M1569.10 456.1V460.4M1590.77 14.9V22.9M1590.77 456.1V464.1M1612.44 18.6V22.9M1612.44 456.1V460.4M1634.11 14.9V22.9M1634.11 456.1V464.1M1655.77 18.6V22.9M1655.77 456.1V460.4M1677.44 14.9V22.9M1677.44 456.1V464.1M1699.11 18.6V22.9M1699.11 456.1V460.4M1720.78 14.9V22.9M1720.78 456.1V464.1M1742.44 18.6V22.9M1742.44 456.1V460.4M1764.11 14.9V22.9M1764.11 456.1V464.1M1785.78 18.6V22.9M1785.78 456.1V460.4M1807.45 14.9V22.9M1807.45 456.1V464.1M1829.11 18.6V22.9M1829.11 456.1V460.4M1850.78 14.9V22.9M1850.78 456.1V464.1M1872.45 18.6V22.9M1872.45 456.1V460.4M1894.12 14.9V22.9M1894.12 456.1V464.1M1915.78 18.6V22.9M1915.78 456.1V460.4M1937.45 14.9V22.9M1937.45 456.1V464.1" stroke="#000" stroke-width="1.1" fill="none"/>
<path d="M1502.95 21.45H1938.70V457.20H1502.95Z M1505.25 24.45V455.00H1936.20V24.45Z" fill="#000" fill-rule="evenodd"/>
<g class="tk" text-anchor="end">
<text x="1486.2" y="462.9">0</text>
<text x="1486.2" y="419.6">100</text>
<text x="1486.2" y="376.3">200</text>
<text x="1486.2" y="333.0">300</text>
<text x="1486.2" y="289.6">400</text>
<text x="1486.2" y="246.3">500</text>
<text x="1486.2" y="203.0">600</text>
<text x="1486.2" y="159.7">700</text>
<text x="1486.2" y="116.4">800</text>
<text x="1486.2" y="73.1">900</text>
<text x="1486.2" y="29.7">1000</text>
</g>
<g class="tk" text-anchor="middle">
<text x="1503.9" y="486.7">0</text>
<text x="1547.2" y="486.7">100</text>
<text x="1590.6" y="486.7">200</text>
<text x="1633.9" y="486.7">300</text>
<text x="1677.2" y="486.7">400</text>
<text x="1720.6" y="486.7">500</text>
<text x="1763.9" y="486.7">600</text>
<text x="1807.2" y="486.7">700</text>
<text x="1850.6" y="486.7">800</text>
<text x="1893.9" y="486.7">900</text>
<text x="1937.2" y="486.7">1000</text>
</g>
<text class="ax" x="1653.8" y="503.9">Observation [J/m<tspan class="sup" dy="-5.5">2</tspan><tspan dy="5.5">]</tspan></text>
<text class="tt" text-anchor="middle" x="1732.4" y="63.6">Reading</text>
<text class="tt" text-anchor="middle" x="1733.4" y="89.1">SZA<tspan class="sub" dy="5.5">N</tspan><tspan dy="-5.5">&lt;45°</tspan></text>
<text class="cap"><tspan x="1689.9" y="563.9">(</tspan><tspan class="b" x="1702.9" y="564.8">c</tspan><tspan x="1721.9" y="563.9">)</tspan></text>
</svg>
</body></html>
